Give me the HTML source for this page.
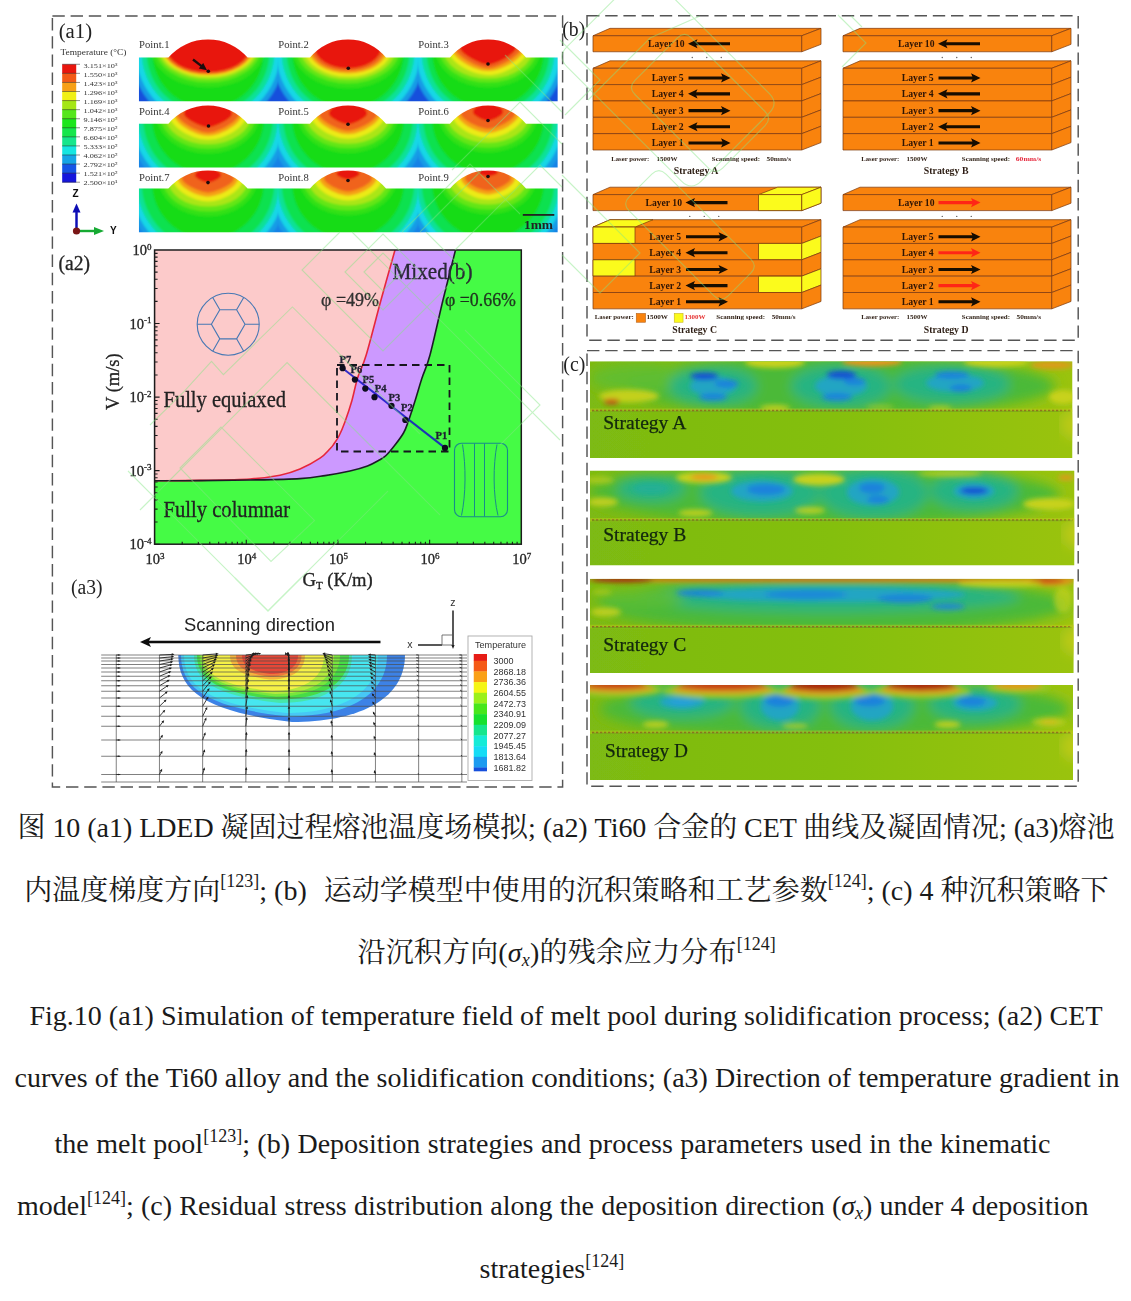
<!DOCTYPE html><html lang="zh"><head><meta charset="utf-8"><title>Fig.10</title><style>html,body{margin:0;padding:0;background:#fff}body{position:relative;width:1131px;height:1301px;overflow:hidden}.ln{position:absolute;white-space:nowrap;font-family:"Liberation Serif", "Noto Serif CJK SC", serif;font-size:28px;line-height:50px;height:50px;color:#1a1a1a}.sp{font-size:18px;position:relative;top:-12.5px;letter-spacing:0}.spl{top:-11px}.sb{font-size:18px;position:relative;top:4px}i{font-style:italic}</style></head><body><svg width="1131" height="800" viewBox="0 0 1131 800" style="position:absolute;left:0;top:0"><defs><filter id="bl1" x="-5%" y="-5%" width="110%" height="110%"><feGaussianBlur stdDeviation="0.9"/></filter><filter id="bl05" x="-5%" y="-5%" width="110%" height="110%"><feGaussianBlur stdDeviation="0.6"/></filter><filter id="bl3" x="-5%" y="-20%" width="110%" height="140%"><feGaussianBlur stdDeviation="2.4"/></filter><filter id="bl6" x="-5%" y="-30%" width="110%" height="160%"><feGaussianBlur stdDeviation="6"/></filter><filter id="blt" x="-2%" y="-2%" width="104%" height="104%"><feGaussianBlur stdDeviation="0.5"/></filter><clipPath id="bc0"><path d="M138.8,57.6 L168.4,57.6 A52.18,52.18 0 0 1 247.6,57.6 L310,57.6 A48.77,48.77 0 0 1 386,57.6 L450,57.6 A48.77,48.77 0 0 1 526,57.6 L557.8,57.6 V101.2 H138.8 Z"/></clipPath>
<clipPath id="cc0"><rect x="138.8" y="32.6" width="139.2" height="69.6"/></clipPath>
<clipPath id="cc1"><rect x="278" y="32.6" width="140" height="69.6"/></clipPath>
<clipPath id="cc2"><rect x="418" y="32.6" width="139.8" height="69.6"/></clipPath>
<clipPath id="bc1"><path d="M138.8,123.8 L168.4,123.8 A52.18,52.18 0 0 1 247.6,123.8 L310,123.8 A48.77,48.77 0 0 1 386,123.8 L450,123.8 A48.77,48.77 0 0 1 526,123.8 L557.8,123.8 V167.4 H138.8 Z"/></clipPath>
<clipPath id="cc3"><rect x="138.8" y="98.8" width="139.2" height="69.6"/></clipPath>
<clipPath id="cc4"><rect x="278" y="98.8" width="140" height="69.6"/></clipPath>
<clipPath id="cc5"><rect x="418" y="98.8" width="139.8" height="69.6"/></clipPath>
<clipPath id="bc2"><path d="M138.8,188.6 L168.4,188.6 A52.18,52.18 0 0 1 247.6,188.6 L310,188.6 A48.77,48.77 0 0 1 386,188.6 L450,188.6 A48.77,48.77 0 0 1 526,188.6 L557.8,188.6 V232.2 H138.8 Z"/></clipPath>
<clipPath id="cc6"><rect x="138.8" y="163.6" width="139.2" height="69.6"/></clipPath>
<clipPath id="cc7"><rect x="278" y="163.6" width="140" height="69.6"/></clipPath>
<clipPath id="cc8"><rect x="418" y="163.6" width="139.8" height="69.6"/></clipPath><clipPath id="pc"><rect x="154.6" y="250" width="366.7" height="294.2"/></clipPath><clipPath id="p3c"><rect x="100" y="655" width="370" height="130"/></clipPath><clipPath id="sc0"><rect x="590" y="361.25" width="482.5" height="96.75"/></clipPath>
<clipPath id="su0"><rect x="590" y="361.25" width="482.5" height="50.25"/></clipPath>
<linearGradient id="sg0" x1="0" y1="0" x2="1" y2="0"><stop offset="0" stop-color="#7dba12"/><stop offset="0.5" stop-color="#84bf0e"/><stop offset="1" stop-color="#9ac30e"/></linearGradient>
<clipPath id="sc1"><rect x="590" y="470.5" width="484.5" height="95"/></clipPath>
<clipPath id="su1"><rect x="590" y="470.5" width="484.5" height="50.5"/></clipPath>
<linearGradient id="sg1" x1="0" y1="0" x2="1" y2="0"><stop offset="0" stop-color="#7dba12"/><stop offset="0.5" stop-color="#84bf0e"/><stop offset="1" stop-color="#9ac30e"/></linearGradient>
<clipPath id="sc2"><rect x="590" y="578.75" width="483.75" height="94.25"/></clipPath>
<clipPath id="su2"><rect x="590" y="578.75" width="483.75" height="49"/></clipPath>
<linearGradient id="sg2" x1="0" y1="0" x2="1" y2="0"><stop offset="0" stop-color="#7dba12"/><stop offset="0.5" stop-color="#84bf0e"/><stop offset="1" stop-color="#9ac30e"/></linearGradient>
<clipPath id="sc3"><rect x="590" y="685" width="483" height="95"/></clipPath>
<clipPath id="su3"><rect x="590" y="685" width="483" height="48.5"/></clipPath>
<linearGradient id="sg3" x1="0" y1="0" x2="1" y2="0"><stop offset="0" stop-color="#7dba12"/><stop offset="0.5" stop-color="#84bf0e"/><stop offset="1" stop-color="#9ac30e"/></linearGradient></defs><g filter="url(#blt)"><g fill="none" stroke="#555" stroke-width="1.45" stroke-dasharray="12.4,5.8"><rect x="52.4" y="16" width="510.2" height="771"/><rect x="587" y="15.8" width="491.2" height="324.4"/><rect x="587" y="350.6" width="491.2" height="435.6"/></g><g><text x="58.7" y="38" font-family='"Liberation Serif", "Noto Serif CJK SC", serif' font-size="20.5" fill="#222" textLength="33.5" lengthAdjust="spacingAndGlyphs">(a1)</text>
<text x="60.5" y="54.5" font-family='"Liberation Serif", "Noto Serif CJK SC", serif' font-size="8.4" fill="#333" textLength="66" lengthAdjust="spacingAndGlyphs">Temperature (°C)</text>
<rect x="62.2" y="64.3" width="14" height="9.37" fill="#e8140f"/>
<rect x="62.2" y="73.37" width="14" height="9.37" fill="#f35a14"/>
<rect x="62.2" y="82.44" width="14" height="9.37" fill="#f7a014"/>
<rect x="62.2" y="91.51" width="14" height="9.37" fill="#f0f014"/>
<rect x="62.2" y="100.58" width="14" height="9.37" fill="#a5e614"/>
<rect x="62.2" y="109.65" width="14" height="9.37" fill="#55e61a"/>
<rect x="62.2" y="118.72" width="14" height="9.37" fill="#1ee61e"/>
<rect x="62.2" y="127.78" width="14" height="9.37" fill="#19e64b"/>
<rect x="62.2" y="136.85" width="14" height="9.37" fill="#19e68c"/>
<rect x="62.2" y="145.92" width="14" height="9.37" fill="#19e6e1"/>
<rect x="62.2" y="154.99" width="14" height="9.37" fill="#19a5e6"/>
<rect x="62.2" y="164.06" width="14" height="9.37" fill="#1455e6"/>
<rect x="62.2" y="173.13" width="14" height="9.37" fill="#1414dc"/>
<line x1="62.2" y1="64.3" x2="80" y2="64.3" stroke="#222" stroke-width="0.5"/>
<line x1="62.2" y1="73.37" x2="80" y2="73.37" stroke="#222" stroke-width="0.5"/>
<line x1="62.2" y1="82.44" x2="80" y2="82.44" stroke="#222" stroke-width="0.5"/>
<line x1="62.2" y1="91.51" x2="80" y2="91.51" stroke="#222" stroke-width="0.5"/>
<line x1="62.2" y1="100.58" x2="80" y2="100.58" stroke="#222" stroke-width="0.5"/>
<line x1="62.2" y1="109.65" x2="80" y2="109.65" stroke="#222" stroke-width="0.5"/>
<line x1="62.2" y1="118.72" x2="80" y2="118.72" stroke="#222" stroke-width="0.5"/>
<line x1="62.2" y1="127.78" x2="80" y2="127.78" stroke="#222" stroke-width="0.5"/>
<line x1="62.2" y1="136.85" x2="80" y2="136.85" stroke="#222" stroke-width="0.5"/>
<line x1="62.2" y1="145.92" x2="80" y2="145.92" stroke="#222" stroke-width="0.5"/>
<line x1="62.2" y1="154.99" x2="80" y2="154.99" stroke="#222" stroke-width="0.5"/>
<line x1="62.2" y1="164.06" x2="80" y2="164.06" stroke="#222" stroke-width="0.5"/>
<line x1="62.2" y1="173.13" x2="80" y2="173.13" stroke="#222" stroke-width="0.5"/>
<line x1="62.2" y1="182.2" x2="80" y2="182.2" stroke="#222" stroke-width="0.5"/>
<text x="83.5" y="67.7" font-family='"Liberation Serif", "Noto Serif CJK SC", serif' font-size="6.6" fill="#333" textLength="34" lengthAdjust="spacingAndGlyphs">3.151×10³</text>
<text x="83.5" y="76.72" font-family='"Liberation Serif", "Noto Serif CJK SC", serif' font-size="6.6" fill="#333" textLength="34" lengthAdjust="spacingAndGlyphs">1.550×10³</text>
<text x="83.5" y="85.73" font-family='"Liberation Serif", "Noto Serif CJK SC", serif' font-size="6.6" fill="#333" textLength="34" lengthAdjust="spacingAndGlyphs">1.423×10³</text>
<text x="83.5" y="94.75" font-family='"Liberation Serif", "Noto Serif CJK SC", serif' font-size="6.6" fill="#333" textLength="34" lengthAdjust="spacingAndGlyphs">1.296×10³</text>
<text x="83.5" y="103.76" font-family='"Liberation Serif", "Noto Serif CJK SC", serif' font-size="6.6" fill="#333" textLength="34" lengthAdjust="spacingAndGlyphs">1.169×10³</text>
<text x="83.5" y="112.78" font-family='"Liberation Serif", "Noto Serif CJK SC", serif' font-size="6.6" fill="#333" textLength="34" lengthAdjust="spacingAndGlyphs">1.042×10³</text>
<text x="83.5" y="121.79" font-family='"Liberation Serif", "Noto Serif CJK SC", serif' font-size="6.6" fill="#333" textLength="34" lengthAdjust="spacingAndGlyphs">9.146×10²</text>
<text x="83.5" y="130.81" font-family='"Liberation Serif", "Noto Serif CJK SC", serif' font-size="6.6" fill="#333" textLength="34" lengthAdjust="spacingAndGlyphs">7.875×10²</text>
<text x="83.5" y="139.82" font-family='"Liberation Serif", "Noto Serif CJK SC", serif' font-size="6.6" fill="#333" textLength="34" lengthAdjust="spacingAndGlyphs">6.604×10²</text>
<text x="83.5" y="148.84" font-family='"Liberation Serif", "Noto Serif CJK SC", serif' font-size="6.6" fill="#333" textLength="34" lengthAdjust="spacingAndGlyphs">5.333×10²</text>
<text x="83.5" y="157.85" font-family='"Liberation Serif", "Noto Serif CJK SC", serif' font-size="6.6" fill="#333" textLength="34" lengthAdjust="spacingAndGlyphs">4.062×10²</text>
<text x="83.5" y="166.87" font-family='"Liberation Serif", "Noto Serif CJK SC", serif' font-size="6.6" fill="#333" textLength="34" lengthAdjust="spacingAndGlyphs">2.792×10²</text>
<text x="83.5" y="175.88" font-family='"Liberation Serif", "Noto Serif CJK SC", serif' font-size="6.6" fill="#333" textLength="34" lengthAdjust="spacingAndGlyphs">1.521×10²</text>
<text x="83.5" y="184.9" font-family='"Liberation Serif", "Noto Serif CJK SC", serif' font-size="6.6" fill="#333" textLength="34" lengthAdjust="spacingAndGlyphs">2.500×10¹</text>
<text x="72.5" y="196.5" font-family='"Liberation Sans", "Noto Sans CJK SC", sans-serif' font-weight="bold" font-size="10" fill="#111">Z</text>
<text x="110" y="234" font-family='"Liberation Sans", "Noto Sans CJK SC", sans-serif' font-weight="bold" font-size="10" fill="#111">Y</text>
<path d="M76.5,230 V211" stroke="#0a0ab4" stroke-width="2.4" fill="none"/><path d="M76.5,203.5 l4,9 h-8z" fill="#0a0ab4"/>
<path d="M77,231 H95" stroke="#14aa32" stroke-width="2.4" fill="none"/><path d="M104,231 l-10,-4 v8z" fill="#14aa32"/>
<circle cx="76.5" cy="231" r="3.6" fill="#7a1414"/>
<g clip-path="url(#bc0)">
<g clip-path="url(#cc0)"><g filter="url(#bl1)">
<rect x="135.8" y="29.6" width="145.2" height="77.6" fill="#1450dc"/>
<circle cx="208" cy="51.6" r="77" fill="#149be6"/>
<circle cx="208" cy="51.6" r="72" fill="#14d7e6"/>
<circle cx="208" cy="51.6" r="66.5" fill="#0ae196"/>
<circle cx="208" cy="51.6" r="61.5" fill="#0ae150"/>
<circle cx="208" cy="51.6" r="56" fill="#14dc14"/>
<ellipse cx="208" cy="47.6" rx="57" ry="40" fill="#32e114"/>
<ellipse cx="208" cy="47.6" rx="53" ry="35" fill="#64e614"/>
<ellipse cx="208" cy="47.6" rx="50" ry="31.5" fill="#aae614"/>
<ellipse cx="208" cy="47.6" rx="47.5" ry="29" fill="#ebeb14"/>
<ellipse cx="208" cy="47.6" rx="45.5" ry="27.5" fill="#f5a014"/>
<ellipse cx="208" cy="47.6" rx="43.7" ry="26.4" fill="#f0641a"/>
<ellipse cx="208" cy="47.6" rx="41.5" ry="24.6" fill="#e8140f"/>
</g></g>
<g clip-path="url(#cc1)"><g filter="url(#bl1)">
<rect x="275" y="29.6" width="146" height="77.6" fill="#1450dc"/>
<circle cx="348" cy="51.6" r="77" fill="#149be6"/>
<circle cx="348" cy="51.6" r="72" fill="#14d7e6"/>
<circle cx="348" cy="51.6" r="66.5" fill="#0ae196"/>
<circle cx="348" cy="51.6" r="61.5" fill="#0ae150"/>
<circle cx="348" cy="51.6" r="56" fill="#14dc14"/>
<ellipse cx="348" cy="47.6" rx="56" ry="41" fill="#32e114"/>
<ellipse cx="348" cy="47.6" rx="52" ry="36" fill="#64e614"/>
<ellipse cx="348" cy="47.6" rx="48" ry="32" fill="#aae614"/>
<ellipse cx="348" cy="47.6" rx="44" ry="29" fill="#ebeb14"/>
<ellipse cx="348" cy="47.6" rx="40" ry="26" fill="#f5a014"/>
<ellipse cx="348" cy="47.6" rx="37" ry="23.5" fill="#f0641a"/>
<ellipse cx="348" cy="47.6" rx="33" ry="20.8" fill="#e8140f"/>
</g></g>
<g clip-path="url(#cc2)"><g filter="url(#bl1)">
<rect x="415" y="29.6" width="145.8" height="77.6" fill="#1450dc"/>
<circle cx="488" cy="51.6" r="77" fill="#149be6"/>
<circle cx="488" cy="51.6" r="72" fill="#14d7e6"/>
<circle cx="488" cy="51.6" r="66.5" fill="#0ae196"/>
<circle cx="488" cy="51.6" r="61.5" fill="#0ae150"/>
<circle cx="488" cy="51.6" r="56" fill="#14dc14"/>
<ellipse cx="488" cy="47.6" rx="53" ry="40" fill="#32e114"/>
<ellipse cx="488" cy="47.6" rx="49" ry="35" fill="#64e614"/>
<ellipse cx="488" cy="47.6" rx="45" ry="31" fill="#aae614"/>
<path d="M447.5,47.6 A40.5,27.5 0 0 1 528.5,47.6 C528.5,60.71 505.84,75.1 488,75.1 C470.16,75.1 447.5,60.71 447.5,47.6Z" fill="#ebeb14"/>
<path d="M451.5,47.6 A36.5,23.5 0 0 1 524.5,47.6 C524.5,57.91 502.04,71.1 488,71.1 C473.96,71.1 451.5,57.91 451.5,47.6Z" fill="#f5a014"/>
<path d="M455,47.6 A33,20.6 0 0 1 521,47.6 C521,55.66 498.39,68.2 488,68.2 C477.61,68.2 455,55.66 455,47.6Z" fill="#f0641a"/>
<path d="M460,47.6 A28,17 0 0 1 516,47.6 C516,53.77 495.65,64.6 488,64.6 C480.35,64.6 460,53.77 460,47.6Z" fill="#e8140f"/>
</g></g>
</g>
<g clip-path="url(#bc1)">
<g clip-path="url(#cc3)"><g filter="url(#bl1)">
<rect x="135.8" y="95.8" width="145.2" height="77.6" fill="#1482e6"/>
<circle cx="208" cy="117.8" r="80.5" fill="#149be6"/>
<circle cx="208" cy="117.8" r="75.5" fill="#14d7e6"/>
<circle cx="208" cy="117.8" r="70" fill="#0ae196"/>
<circle cx="208" cy="117.8" r="65" fill="#0ae150"/>
<circle cx="208" cy="117.8" r="56" fill="#14dc14"/>
<ellipse cx="208" cy="113.8" rx="52" ry="40" fill="#32e114"/>
<ellipse cx="208" cy="113.8" rx="48" ry="35" fill="#64e614"/>
<ellipse cx="208" cy="113.8" rx="43.5" ry="30.5" fill="#aae614"/>
<path d="M169,113.8 A39,26 0 0 1 247,113.8 C247,126.19 225.18,139.8 208,139.8 C190.82,139.8 169,126.19 169,113.8Z" fill="#ebeb14"/>
<path d="M174,113.8 A34,22 0 0 1 242,113.8 C242,123.45 221.08,135.8 208,135.8 C194.92,135.8 174,123.45 174,113.8Z" fill="#f5a014"/>
<path d="M177,113.8 A31,19 0 0 1 239,113.8 C239,121.24 217.76,132.8 208,132.8 C198.24,132.8 177,121.24 177,113.8Z" fill="#f0641a"/>
<path d="M184,113.8 A24,13.5 0 0 1 232,113.8 C232,118.7 214.55,127.3 208,127.3 C201.45,127.3 184,118.7 184,113.8Z" fill="#e8140f"/>
</g></g>
<g clip-path="url(#cc4)"><g filter="url(#bl1)">
<rect x="275" y="95.8" width="146" height="77.6" fill="#1482e6"/>
<circle cx="348" cy="117.8" r="80.5" fill="#149be6"/>
<circle cx="348" cy="117.8" r="75.5" fill="#14d7e6"/>
<circle cx="348" cy="117.8" r="70" fill="#0ae196"/>
<circle cx="348" cy="117.8" r="65" fill="#0ae150"/>
<circle cx="348" cy="117.8" r="56" fill="#14dc14"/>
<ellipse cx="348" cy="113.8" rx="51" ry="39.5" fill="#32e114"/>
<ellipse cx="348" cy="113.8" rx="47" ry="34.5" fill="#64e614"/>
<ellipse cx="348" cy="113.8" rx="42.5" ry="30" fill="#aae614"/>
<path d="M310.5,113.8 A37.5,25 0 0 1 385.5,113.8 C385.5,125.72 364.52,138.8 348,138.8 C331.48,138.8 310.5,125.72 310.5,113.8Z" fill="#ebeb14"/>
<path d="M315.5,113.8 A32.5,20.5 0 0 1 380.5,113.8 C380.5,122.79 360.5,134.3 348,134.3 C335.5,134.3 315.5,122.79 315.5,113.8Z" fill="#f5a014"/>
<path d="M319,113.8 A29,17 0 0 1 377,113.8 C377,120.45 357.13,130.8 348,130.8 C338.87,130.8 319,120.45 319,113.8Z" fill="#f0641a"/>
<path d="M329,113.8 A19,10.5 0 0 1 367,113.8 C367,117.61 353.19,124.3 348,124.3 C342.81,124.3 329,117.61 329,113.8Z" fill="#e8140f"/>
</g></g>
<g clip-path="url(#cc5)"><g filter="url(#bl1)">
<rect x="415" y="95.8" width="145.8" height="77.6" fill="#1482e6"/>
<circle cx="488" cy="117.8" r="80.5" fill="#149be6"/>
<circle cx="488" cy="117.8" r="75.5" fill="#14d7e6"/>
<circle cx="488" cy="117.8" r="70" fill="#0ae196"/>
<circle cx="488" cy="117.8" r="65" fill="#0ae150"/>
<circle cx="488" cy="117.8" r="56" fill="#14dc14"/>
<ellipse cx="488" cy="113.8" rx="50" ry="39" fill="#32e114"/>
<ellipse cx="488" cy="113.8" rx="46" ry="34" fill="#64e614"/>
<ellipse cx="488" cy="113.8" rx="41.5" ry="29" fill="#aae614"/>
<path d="M452,113.8 A36,24 0 0 1 524,113.8 C524,125.24 503.86,137.8 488,137.8 C472.14,137.8 452,125.24 452,113.8Z" fill="#ebeb14"/>
<path d="M457,113.8 A31,19 0 0 1 519,113.8 C519,122.14 499.93,132.8 488,132.8 C476.07,132.8 457,122.14 457,113.8Z" fill="#f5a014"/>
<path d="M461,113.8 A27,15 0 0 1 515,113.8 C515,119.67 496.5,128.8 488,128.8 C479.5,128.8 461,119.67 461,113.8Z" fill="#f0641a"/>
<path d="M473,112.3 A15,8.5 0 0 1 503,112.3 C503,115.39 492.1,120.8 488,120.8 C483.9,120.8 473,115.39 473,112.3Z" fill="#e8140f"/>
</g></g>
</g>
<g clip-path="url(#bc2)">
<g clip-path="url(#cc6)"><g filter="url(#bl1)">
<rect x="135.8" y="160.6" width="145.2" height="77.6" fill="#1482e6"/>
<circle cx="208" cy="182.6" r="82" fill="#149be6"/>
<circle cx="208" cy="182.6" r="77" fill="#14d7e6"/>
<circle cx="208" cy="182.6" r="71.5" fill="#0ae196"/>
<circle cx="208" cy="182.6" r="66.5" fill="#0ae150"/>
<circle cx="208" cy="182.6" r="56" fill="#14dc14"/>
<ellipse cx="208" cy="178.6" rx="49.5" ry="38" fill="#32e114"/>
<ellipse cx="208" cy="178.6" rx="45.5" ry="33" fill="#64e614"/>
<ellipse cx="208" cy="178.6" rx="40.5" ry="28" fill="#aae614"/>
<path d="M173,178.6 A35,23 0 0 1 243,178.6 C243,189.56 223.42,201.6 208,201.6 C192.58,201.6 173,189.56 173,178.6Z" fill="#ebeb14"/>
<path d="M178,178.6 A30,18 0 0 1 238,178.6 C238,186.5 219.54,196.6 208,196.6 C196.46,196.6 178,186.5 178,178.6Z" fill="#f5a014"/>
<path d="M182,178.6 A26,14 0 0 1 234,178.6 C234,184.08 216.19,192.6 208,192.6 C199.81,192.6 182,184.08 182,178.6Z" fill="#f0641a"/>
<path d="M195,175.6 A13,7 0 0 1 221,175.6 C221,178.14 211.55,182.6 208,182.6 C204.45,182.6 195,178.14 195,175.6Z" fill="#e8140f"/>
</g></g>
<g clip-path="url(#cc7)"><g filter="url(#bl1)">
<rect x="275" y="160.6" width="146" height="77.6" fill="#1482e6"/>
<circle cx="348" cy="182.6" r="82" fill="#149be6"/>
<circle cx="348" cy="182.6" r="77" fill="#14d7e6"/>
<circle cx="348" cy="182.6" r="71.5" fill="#0ae196"/>
<circle cx="348" cy="182.6" r="66.5" fill="#0ae150"/>
<circle cx="348" cy="182.6" r="56" fill="#14dc14"/>
<ellipse cx="348" cy="178.6" rx="49" ry="37" fill="#32e114"/>
<ellipse cx="348" cy="178.6" rx="45" ry="32" fill="#64e614"/>
<ellipse cx="348" cy="178.6" rx="40" ry="27" fill="#aae614"/>
<path d="M314,178.6 A34,22 0 0 1 382,178.6 C382,189.09 362.98,200.6 348,200.6 C333.02,200.6 314,189.09 314,178.6Z" fill="#ebeb14"/>
<path d="M319.5,178.6 A28.5,17 0 0 1 376.5,178.6 C376.5,186.06 358.97,195.6 348,195.6 C337.03,195.6 319.5,186.06 319.5,178.6Z" fill="#f5a014"/>
<path d="M324,178.6 A24,13 0 0 1 372,178.6 C372,183.69 355.56,191.6 348,191.6 C340.44,191.6 324,183.69 324,178.6Z" fill="#f0641a"/>
<path d="M336.5,174.1 A11.5,5.5 0 0 1 359.5,174.1 C359.5,176.1 351.14,179.6 348,179.6 C344.86,179.6 336.5,176.1 336.5,174.1Z" fill="#e8140f"/>
</g></g>
<g clip-path="url(#cc8)"><g filter="url(#bl1)">
<rect x="415" y="160.6" width="145.8" height="77.6" fill="#1482e6"/>
<circle cx="488" cy="182.6" r="82" fill="#149be6"/>
<circle cx="488" cy="182.6" r="77" fill="#14d7e6"/>
<circle cx="488" cy="182.6" r="71.5" fill="#0ae196"/>
<circle cx="488" cy="182.6" r="66.5" fill="#0ae150"/>
<circle cx="488" cy="182.6" r="56" fill="#14dc14"/>
<ellipse cx="488" cy="178.6" rx="48.5" ry="36" fill="#32e114"/>
<ellipse cx="488" cy="178.6" rx="44.5" ry="31" fill="#64e614"/>
<ellipse cx="488" cy="178.6" rx="39.5" ry="26" fill="#aae614"/>
<path d="M455,178.6 A33,21 0 0 1 521,178.6 C521,188.61 502.54,199.6 488,199.6 C473.46,199.6 455,188.61 455,178.6Z" fill="#ebeb14"/>
<path d="M461,178.6 A27,16 0 0 1 515,178.6 C515,185.62 498.39,194.6 488,194.6 C477.61,194.6 461,185.62 461,178.6Z" fill="#f5a014"/>
<path d="M465,178.6 A23,12 0 0 1 511,178.6 C511,183.3 495.24,190.6 488,190.6 C480.76,190.6 465,183.3 465,178.6Z" fill="#f0641a"/>
<path d="M478,172.6 A10,4 0 0 1 498,172.6 C498,174.05 490.73,176.6 488,176.6 C485.27,176.6 478,174.05 478,172.6Z" fill="#e8140f"/>
</g></g>
</g>
<text x="139.1" y="48.2" font-family='"Liberation Serif", "Noto Serif CJK SC", serif' font-size="9.6" fill="#333" textLength="30.5" lengthAdjust="spacingAndGlyphs">Point.1</text>
<text x="278.3" y="48.2" font-family='"Liberation Serif", "Noto Serif CJK SC", serif' font-size="9.6" fill="#333" textLength="30.5" lengthAdjust="spacingAndGlyphs">Point.2</text>
<text x="418.3" y="48.2" font-family='"Liberation Serif", "Noto Serif CJK SC", serif' font-size="9.6" fill="#333" textLength="30.5" lengthAdjust="spacingAndGlyphs">Point.3</text>
<text x="139.1" y="114.8" font-family='"Liberation Serif", "Noto Serif CJK SC", serif' font-size="9.6" fill="#333" textLength="30.5" lengthAdjust="spacingAndGlyphs">Point.4</text>
<text x="278.3" y="114.8" font-family='"Liberation Serif", "Noto Serif CJK SC", serif' font-size="9.6" fill="#333" textLength="30.5" lengthAdjust="spacingAndGlyphs">Point.5</text>
<text x="418.3" y="114.8" font-family='"Liberation Serif", "Noto Serif CJK SC", serif' font-size="9.6" fill="#333" textLength="30.5" lengthAdjust="spacingAndGlyphs">Point.6</text>
<text x="139.1" y="181.4" font-family='"Liberation Serif", "Noto Serif CJK SC", serif' font-size="9.6" fill="#333" textLength="30.5" lengthAdjust="spacingAndGlyphs">Point.7</text>
<text x="278.3" y="181.4" font-family='"Liberation Serif", "Noto Serif CJK SC", serif' font-size="9.6" fill="#333" textLength="30.5" lengthAdjust="spacingAndGlyphs">Point.8</text>
<text x="418.3" y="181.4" font-family='"Liberation Serif", "Noto Serif CJK SC", serif' font-size="9.6" fill="#333" textLength="30.5" lengthAdjust="spacingAndGlyphs">Point.9</text>
<circle cx="208.3" cy="71.2" r="1.8" fill="#1e0a0a"/>
<circle cx="348.3" cy="68.2" r="1.8" fill="#1e0a0a"/>
<circle cx="488" cy="64" r="1.8" fill="#1e0a0a"/>
<circle cx="208.5" cy="126" r="1.8" fill="#1e0a0a"/>
<circle cx="348" cy="124.2" r="1.8" fill="#1e0a0a"/>
<circle cx="488" cy="120.5" r="1.8" fill="#1e0a0a"/>
<circle cx="208" cy="182.6" r="1.8" fill="#1e0a0a"/>
<circle cx="348" cy="180.5" r="1.8" fill="#1e0a0a"/>
<circle cx="488" cy="176.5" r="1.8" fill="#1e0a0a"/>
<path d="M193,59.5 L202.5,66.8" stroke="#1e0a0a" stroke-width="2.3"/><path d="M207,70.2 l-8.2,-1.6 l4.4,-5.6z" fill="#1e0a0a"/>
<rect x="522.8" y="214" width="31.5" height="1.8" fill="#222"/>
<text x="524" y="229" font-family='"Liberation Serif", "Noto Serif CJK SC", serif' font-weight="bold" font-size="11.5" fill="#222" textLength="29" lengthAdjust="spacingAndGlyphs">1mm</text></g><g><g clip-path="url(#pc)">
<rect x="154.6" y="250" width="366.7" height="294.2" fill="#fccaca"/>
<path d="M154.6,480.8 C162.17,480.73 184.1,480.7 200,480.4 C215.9,480.1 236.67,479.87 250,479 C263.33,478.13 271.67,476.87 280,475.2 C288.33,473.53 293.33,471.83 300,469 C306.67,466.17 315,461.58 320,458.2 C325,454.82 327.77,450.95 330,448.7 C332.23,446.45 331.87,446.9 333.4,444.7 C334.93,442.5 337.27,439.33 339.2,435.5 C341.13,431.67 342.9,427.45 345,421.7 C347.1,415.95 349.7,408.28 351.8,401 C353.9,393.72 355.2,385.67 357.6,378 C360,370.33 362.3,368 366.2,355 C370.1,342 376.2,317.5 381,300 C385.8,282.5 392.67,258.33 395,250 L526.3,250 V549.2 H154.6 Z" fill="#cc99ff"/>
<path d="M154.6,480.8 C162.17,480.77 184.1,480.73 200,480.6 C215.9,480.47 233.33,480.33 250,480 C266.67,479.67 287.5,479.33 300,478.6 C312.5,477.87 316.67,476.87 325,475.6 C333.33,474.33 342.92,472.6 350,471 C357.08,469.4 362.6,467.83 367.5,466 C372.4,464.17 376.32,461.75 379.4,460 C382.48,458.25 383.5,457.87 386,455.5 C388.5,453.13 391.48,449.55 394.4,445.8 C397.32,442.05 401.2,437.02 403.5,433 C405.8,428.98 406.28,427.03 408.2,421.7 C410.12,416.37 412.7,408.28 415,401 C417.3,393.72 419.5,385.67 422,378 C424.5,370.33 426.5,368 430,355 C433.5,342 438.75,317.5 443,300 C447.25,282.5 453.42,258.33 455.5,250 L526.3,250 V549.2 H154.6 Z" fill="#44fb44"/>
<path d="M154.6,480.8 C162.17,480.73 184.1,480.7 200,480.4 C215.9,480.1 236.67,479.87 250,479 C263.33,478.13 271.67,476.87 280,475.2 C288.33,473.53 293.33,471.83 300,469 C306.67,466.17 315,461.58 320,458.2 C325,454.82 327.77,450.95 330,448.7 C332.23,446.45 331.87,446.9 333.4,444.7 C334.93,442.5 337.27,439.33 339.2,435.5 C341.13,431.67 342.9,427.45 345,421.7 C347.1,415.95 349.7,408.28 351.8,401 C353.9,393.72 355.2,385.67 357.6,378 C360,370.33 362.3,368 366.2,355 C370.1,342 376.2,317.5 381,300 C385.8,282.5 392.67,258.33 395,250" fill="none" stroke="#e6283c" stroke-width="1.6"/>
<path d="M154.6,480.8 C162.17,480.77 184.1,480.73 200,480.6 C215.9,480.47 233.33,480.33 250,480 C266.67,479.67 287.5,479.33 300,478.6 C312.5,477.87 316.67,476.87 325,475.6 C333.33,474.33 342.92,472.6 350,471 C357.08,469.4 362.6,467.83 367.5,466 C372.4,464.17 376.32,461.75 379.4,460 C382.48,458.25 383.5,457.87 386,455.5 C388.5,453.13 391.48,449.55 394.4,445.8 C397.32,442.05 401.2,437.02 403.5,433 C405.8,428.98 406.28,427.03 408.2,421.7 C410.12,416.37 412.7,408.28 415,401 C417.3,393.72 419.5,385.67 422,378 C424.5,370.33 426.5,368 430,355 C433.5,342 438.75,317.5 443,300 C447.25,282.5 453.42,258.33 455.5,250" fill="none" stroke="#1e1e28" stroke-width="1.6"/>
</g>
<rect x="154.6" y="250" width="366.7" height="294.2" fill="none" stroke="#1e1e1e" stroke-width="1.5"/>
<path d="M154.6,544.2 v-4.5 M182.2,544.2 v-2.5 M198.34,544.2 v-2.5 M209.79,544.2 v-2.5 M218.68,544.2 v-2.5 M225.94,544.2 v-2.5 M232.07,544.2 v-2.5 M237.39,544.2 v-2.5 M242.08,544.2 v-2.5 M246.27,544.2 v-4.5 M273.87,544.2 v-2.5 M290.02,544.2 v-2.5 M301.47,544.2 v-2.5 M310.35,544.2 v-2.5 M317.61,544.2 v-2.5 M323.75,544.2 v-2.5 M329.07,544.2 v-2.5 M333.76,544.2 v-2.5 M337.95,544.2 v-4.5 M365.55,544.2 v-2.5 M381.69,544.2 v-2.5 M393.14,544.2 v-2.5 M402.03,544.2 v-2.5 M409.29,544.2 v-2.5 M415.42,544.2 v-2.5 M420.74,544.2 v-2.5 M425.43,544.2 v-2.5 M429.62,544.2 v-4.5 M457.22,544.2 v-2.5 M473.37,544.2 v-2.5 M484.82,544.2 v-2.5 M493.7,544.2 v-2.5 M500.96,544.2 v-2.5 M507.1,544.2 v-2.5 M512.42,544.2 v-2.5 M517.11,544.2 v-2.5 M154.6,544.2 h5 M154.6,522.06 h3 M154.6,509.11 h3 M154.6,499.92 h3 M154.6,492.79 h3 M154.6,486.97 h3 M154.6,482.04 h3 M154.6,477.78 h3 M154.6,474.02 h3 M154.6,470.65 h5 M154.6,448.51 h3 M154.6,435.56 h3 M154.6,426.37 h3 M154.6,419.24 h3 M154.6,413.42 h3 M154.6,408.49 h3 M154.6,404.23 h3 M154.6,400.47 h3 M154.6,397.1 h5 M154.6,374.96 h3 M154.6,362.01 h3 M154.6,352.82 h3 M154.6,345.69 h3 M154.6,339.87 h3 M154.6,334.94 h3 M154.6,330.68 h3 M154.6,326.92 h3 M154.6,323.55 h5 M154.6,301.41 h3 M154.6,288.46 h3 M154.6,279.27 h3 M154.6,272.14 h3 M154.6,266.32 h3 M154.6,261.39 h3 M154.6,257.13 h3 M154.6,253.37 h3" stroke="#1e1e1e" stroke-width="1.1" fill="none"/>
<text stroke="#222" stroke-width="0.3" x="145.6" y="564" font-family='"Liberation Serif", "Noto Serif CJK SC", serif' font-size="14.5" fill="#222">10<tspan dy="-5.5" font-size="9">3</tspan></text>
<text stroke="#222" stroke-width="0.3" x="237.27" y="564" font-family='"Liberation Serif", "Noto Serif CJK SC", serif' font-size="14.5" fill="#222">10<tspan dy="-5.5" font-size="9">4</tspan></text>
<text stroke="#222" stroke-width="0.3" x="328.95" y="564" font-family='"Liberation Serif", "Noto Serif CJK SC", serif' font-size="14.5" fill="#222">10<tspan dy="-5.5" font-size="9">5</tspan></text>
<text stroke="#222" stroke-width="0.3" x="420.62" y="564" font-family='"Liberation Serif", "Noto Serif CJK SC", serif' font-size="14.5" fill="#222">10<tspan dy="-5.5" font-size="9">6</tspan></text>
<text stroke="#222" stroke-width="0.3" x="512.3" y="564" font-family='"Liberation Serif", "Noto Serif CJK SC", serif' font-size="14.5" fill="#222">10<tspan dy="-5.5" font-size="9">7</tspan></text>
<text stroke="#222" stroke-width="0.3" x="132.5" y="255" font-family='"Liberation Serif", "Noto Serif CJK SC", serif' font-size="14.5" fill="#222">10<tspan dy="-5.5" font-size="9">0</tspan></text>
<text stroke="#222" stroke-width="0.3" x="129.5" y="328.55" font-family='"Liberation Serif", "Noto Serif CJK SC", serif' font-size="14.5" fill="#222">10<tspan dy="-5.5" font-size="9">-1</tspan></text>
<text stroke="#222" stroke-width="0.3" x="129.5" y="402.1" font-family='"Liberation Serif", "Noto Serif CJK SC", serif' font-size="14.5" fill="#222">10<tspan dy="-5.5" font-size="9">-2</tspan></text>
<text stroke="#222" stroke-width="0.3" x="129.5" y="475.65" font-family='"Liberation Serif", "Noto Serif CJK SC", serif' font-size="14.5" fill="#222">10<tspan dy="-5.5" font-size="9">-3</tspan></text>
<text stroke="#222" stroke-width="0.3" x="129.5" y="549.2" font-family='"Liberation Serif", "Noto Serif CJK SC", serif' font-size="14.5" fill="#222">10<tspan dy="-5.5" font-size="9">-4</tspan></text>
<text stroke="#222" stroke-width="0.3" x="302.5" y="585.5" font-family='"Liberation Serif", "Noto Serif CJK SC", serif' font-size="18.6" fill="#222">G<tspan dy="3.5" font-size="11">T</tspan><tspan dy="-3.5"> (K/m)</tspan></text>
<text stroke="#222" stroke-width="0.3" transform="translate(119,410) rotate(-90)" font-family='"Liberation Serif", "Noto Serif CJK SC", serif' font-size="18.5" fill="#222">V (m/s)</text>
<text stroke="#222" stroke-width="0.3" x="58.5" y="270" font-family='"Liberation Serif", "Noto Serif CJK SC", serif' font-size="20" fill="#222" textLength="31.5" lengthAdjust="spacingAndGlyphs">(a2)</text>
<text stroke="#222" stroke-width="0.3" x="163.5" y="406.5" font-family='"Liberation Serif", "Noto Serif CJK SC", serif' font-size="22.5" fill="#222" textLength="122.5" lengthAdjust="spacingAndGlyphs">Fully equiaxed</text>
<text stroke="#222" stroke-width="0.3" x="163.5" y="516.5" font-family='"Liberation Serif", "Noto Serif CJK SC", serif' font-size="22.5" fill="#222" textLength="126.5" lengthAdjust="spacingAndGlyphs">Fully columnar</text>
<text stroke="#222" stroke-width="0.3" x="392.5" y="278.5" font-family='"Liberation Serif", "Noto Serif CJK SC", serif' font-size="23" fill="#2a2a3a" textLength="80" lengthAdjust="spacingAndGlyphs">Mixed(b)</text>
<text stroke="#222" stroke-width="0.3" x="321" y="305.5" font-family='"Liberation Serif", "Noto Serif CJK SC", serif' font-size="19.5" fill="#333" textLength="58" lengthAdjust="spacingAndGlyphs">φ =49%</text>
<text stroke="#222" stroke-width="0.3" x="445" y="305.5" font-family='"Liberation Serif", "Noto Serif CJK SC", serif' font-size="19.5" fill="#1e3c1e" textLength="71" lengthAdjust="spacingAndGlyphs">φ =0.66%</text>
<circle cx="228.2" cy="324.3" r="31" fill="none" stroke="#4678b4" stroke-width="1.1"/><path d="M245,324.3 L236.6,338.85 L219.8,338.85 L211.4,324.3 L219.8,309.75 L236.6,309.75Z M245,324.3 L259.2,324.3 M236.6,338.85 L243.7,351.15 M219.8,338.85 L212.7,351.15 M211.4,324.3 L197.2,324.3 M219.8,309.75 L212.7,297.45 M236.6,309.75 L243.7,297.45" fill="none" stroke="#4678b4" stroke-width="1.1"/>
<rect x="454.5" y="443.2" width="53" height="73.5" rx="7" fill="none" stroke="#198c8c" stroke-width="1.1"/>
<path d="M462.5,444.5 C466,465 466,495 461.5,515.5 M474.5,443.5 V516.5 M484.5,443.5 V516.5 M497,444.5 C493,465 493,495 498,515.5" fill="none" stroke="#198c8c" stroke-width="1"/>
<rect x="337" y="365" width="112.5" height="86.5" fill="none" stroke="#14141e" stroke-width="1.8" stroke-dasharray="7.5,5"/>
<line x1="342.6" y1="368.2" x2="445" y2="447.9" stroke="#1414c8" stroke-width="2" opacity="0.85"/>
<circle cx="445" cy="447.9" r="3.1" fill="#0a0a1e"/>
<circle cx="405.3" cy="420" r="3.1" fill="#0a0a1e"/>
<circle cx="391.5" cy="405.8" r="3.1" fill="#0a0a1e"/>
<circle cx="374.5" cy="397.2" r="3.1" fill="#0a0a1e"/>
<circle cx="365.3" cy="388.6" r="3.1" fill="#0a0a1e"/>
<circle cx="354.9" cy="379.6" r="3.1" fill="#0a0a1e"/>
<circle cx="342.6" cy="368.2" r="3.1" fill="#0a0a1e"/>
<text stroke="#222" stroke-width="0.3" x="339.5" y="363" font-family='"Liberation Serif", "Noto Serif CJK SC", serif' font-weight="bold" font-size="10.5" fill="#1e1e3c">P7</text>
<text stroke="#222" stroke-width="0.3" x="350.5" y="373.4" font-family='"Liberation Serif", "Noto Serif CJK SC", serif' font-weight="bold" font-size="10.5" fill="#1e1e3c">P6</text>
<text stroke="#222" stroke-width="0.3" x="362.5" y="383" font-family='"Liberation Serif", "Noto Serif CJK SC", serif' font-weight="bold" font-size="10.5" fill="#1e1e3c">P5</text>
<text stroke="#222" stroke-width="0.3" x="374.8" y="392.4" font-family='"Liberation Serif", "Noto Serif CJK SC", serif' font-weight="bold" font-size="10.5" fill="#1e1e3c">P4</text>
<text stroke="#222" stroke-width="0.3" x="388.5" y="401" font-family='"Liberation Serif", "Noto Serif CJK SC", serif' font-weight="bold" font-size="10.5" fill="#1e1e3c">P3</text>
<text stroke="#222" stroke-width="0.3" x="401" y="411" font-family='"Liberation Serif", "Noto Serif CJK SC", serif' font-weight="bold" font-size="10.5" fill="#1e1e3c">P2</text>
<text stroke="#222" stroke-width="0.3" x="435.5" y="439" font-family='"Liberation Serif", "Noto Serif CJK SC", serif' font-weight="bold" font-size="10.5" fill="#1e1e3c">P1</text></g><g><text x="71" y="594" font-family='"Liberation Serif", "Noto Serif CJK SC", serif' font-size="20" fill="#222" textLength="31.5" lengthAdjust="spacingAndGlyphs">(a3)</text>
<text x="184" y="631" font-family='"Liberation Sans", "Noto Sans CJK SC", sans-serif' font-size="18.6" fill="#222" textLength="151" lengthAdjust="spacingAndGlyphs">Scanning direction</text>
<path d="M380.5,642 H148" stroke="#111" stroke-width="2.4"/><path d="M140,642 l11,-5 l-2.5,5 l2.5,5z" fill="#111"/>
<g clip-path="url(#p3c)"><g filter="url(#bl05)">
<path d="M178.3,653 V655 C178.3,691.85 206.73,711.95 292,722 C354.15,722 405,701.9 405,655 V653 Z" fill="#3c82e6"/>
<path d="M181,653 V655 C181,688.83 207.75,707.27 288,716.5 C342.45,716.5 387,698.05 387,655 V653 Z" fill="#46c8f5"/>
<path d="M184,653 V655 C184,686.9 209.5,704.3 286,713 C336.6,713 378,695.6 378,655 V653 Z" fill="#46e6f0"/>
<path d="M194,653 V655 C194,681.4 215.5,695.8 280,703 C319.6,703 352,688.6 352,655 V653 Z" fill="#46e6aa"/>
<path d="M197,653 V655 C197,679.48 217.25,692.83 278,699.5 C317.05,699.5 349,686.15 349,655 V653 Z" fill="#46dc46"/>
<path d="M199.5,653 V655 C199.5,677.83 218.62,690.27 276,696.5 C311.2,696.5 340,684.05 340,655 V653 Z" fill="#78e63c"/>
<path d="M201.5,653 V655 C201.5,676.45 219.88,688.15 275,694 C307.45,694 334,682.3 334,655 V653 Z" fill="#b4eb3c"/>
<path d="M204,653 V655 C204,674.8 221,685.6 272,691 C300.6,691 324,680.2 324,655 V653 Z" fill="#f5f046"/>
<path d="M230,653 V655 C230,668.48 240,675.83 270,679.5 C289.25,679.5 305,672.15 305,655 V653 Z" fill="#f5b43c"/>
<path d="M236,653 V655 C236,666.83 244.5,673.27 270,676.5 C287.32,676.5 301.5,670.05 301.5,655 V653 Z" fill="#f0783c"/>
<path d="M242,653 V655 C242,665.45 249,671.15 270,674 C285.4,674 298,668.3 298,655 V653 Z" fill="#e64637"/>
</g></g>
<path d="M101.2,655 H467 M101.2,658 H467 M101.2,661 H467 M101.2,664.5 H467 M101.2,668 H467 M101.2,672 H467 M101.2,676.25 H467 M101.2,680.75 H467 M101.2,685.75 H467 M101.2,691.25 H467 M101.2,698 H467 M101.2,706.25 H467 M101.2,716.25 H467 M101.2,726.25 H467 M101.2,740 H467 M101.2,756.25 H467 M101.2,774.5 H467 M101.2,782 H467 M116.25,655 V782 M159.45,655 V782 M202.65,655 V782 M245.85,655 V782 M289.05,655 V782 M332.25,655 V782 M375.45,655 V782 M418.65,655 V782 M461.85,655 V782" stroke="#4b4b4b" stroke-width="0.7" fill="none"/>
<path d="M116.25,655 L119.45,655 M116.25,658 L119.45,658 M116.25,661 L119.45,661 M116.25,664.5 L119.45,664.5 M116.25,668 L119.45,668 M116.25,672 L119.45,672 M116.25,676.25 L119.45,676.25 M116.25,680.75 L119.45,680.75 M116.25,685.75 L119.45,685.75 M116.25,691.25 L119.45,691.25 M116.25,698 L119.45,698 M116.25,706.25 L119.45,706.25 M116.25,716.25 L119.45,716.25 M116.25,726.25 L119.45,726.25 M116.25,740 L119.45,740 M116.25,756.25 L119.45,756.25 M116.25,774.5 L119.45,774.5 M159.45,655 L172.94,654.41 M159.45,658 L172.58,656.73 M159.45,661 L172.19,659.1 M159.45,664.5 L171.7,661.92 M159.45,668 L171.18,664.81 M159.45,672 L170.56,668.2 M159.45,676.25 L169.88,671.91 M159.45,680.75 L169.16,675.94 M159.45,685.75 L168.36,680.56 M159.45,691.25 L167.51,685.78 M159.45,698 L166.52,692.36 M159.45,706.25 L165.41,700.64 M159.45,716.25 L164.22,710.92 M159.45,726.25 L163.19,721.41 M159.45,740 L162.03,736.04 M159.45,756.25 L161.73,752.11 M159.45,774.5 L161.45,770.22 M202.65,655 L217.11,653.86 M202.65,658 L216.66,655.57 M202.65,661 L216.12,657.39 M202.65,664.5 L215.39,659.67 M202.65,668 L214.59,662.15 M202.65,672 L213.66,665.22 M202.65,676.25 L212.68,668.73 M202.65,680.75 L211.69,672.68 M202.65,685.75 L210.69,677.31 M202.65,691.25 L209.7,682.62 M202.65,698 L208.66,689.36 M202.65,706.25 L207.61,697.84 M202.65,716.25 L206.58,708.34 M202.65,726.25 L205.77,718.98 M202.65,740 L204.91,733.76 M202.65,756.25 L204.34,750.7 M202.65,774.5 L204.11,768.89 M245.85,655 L259.66,653.5 M245.85,658 L257.49,653.5 M245.85,661 L255.3,653.5 M245.85,664.5 L253.29,653.5 M245.85,668 L251.85,656.13 M245.85,672 L250.67,660 M245.85,676.25 L249.77,664.35 M245.85,680.75 L249.09,669.07 M245.85,685.75 L248.52,674.4 M245.85,691.25 L248.06,680.32 M245.85,698 L247.63,687.63 M245.85,706.25 L247.26,696.59 M245.85,716.25 L246.93,707.48 M245.85,726.25 L246.69,718.38 M245.85,740 L246.44,733.39 M245.85,756.25 L246.29,750.47 M245.85,774.5 L246.22,768.71 M289.05,655 L285.78,653.5 M289.05,658 L287.56,653.5 M289.05,661 L288.1,653.5 M289.05,664.5 L288.39,653.5 M289.05,668 L288.55,654.71 M289.05,672 L288.67,659.08 M289.05,676.25 L288.74,663.72 M289.05,680.75 L288.8,668.63 M289.05,685.75 L288.85,674.1 M289.05,691.25 L288.88,680.1 M289.05,698 L288.92,687.48 M289.05,706.25 L288.94,696.49 M289.05,716.25 L288.97,707.41 M289.05,726.25 L288.99,718.34 M289.05,740 L289.01,733.36 M289.05,756.25 L289.02,750.45 M289.05,774.5 L289.02,768.7 M332.25,655 L323.87,653.58 M332.25,658 L324.44,655.09 M332.25,661 L325.17,656.92 M332.25,664.5 L326.06,659.47 M332.25,668 L326.88,662.37 M332.25,672 L327.69,665.97 M332.25,676.25 L328.38,670.03 M332.25,680.75 L328.97,674.48 M332.25,685.75 L329.49,679.53 M332.25,691.25 L329.94,685.18 M332.25,698 L330.36,692.17 M332.25,706.25 L330.75,700.78 M332.25,716.25 L331.1,711.26 M332.25,726.25 L331.35,721.77 M332.25,740 L331.61,736.23 M332.25,756.25 L331.71,752.46 M332.25,774.5 L331.79,770.7 M375.45,655 L369.47,654.57 M375.45,658 L369.63,657.08 M375.45,661 L369.83,659.63 M375.45,664.5 L370.1,662.65 M375.45,668 L370.39,665.75 M375.45,672 L370.74,669.36 M375.45,676.25 L371.12,673.29 M375.45,680.75 L371.5,677.54 M375.45,685.75 L371.9,682.36 M375.45,691.25 L372.3,687.74 M375.45,698 L372.73,694.44 M375.45,706.25 L373.18,702.74 M375.45,716.25 L373.62,712.89 M375.45,726.25 L373.97,723.11 M375.45,740 L374.34,737.21 M375.45,756.25 L374.5,753.41 M375.45,774.5 L374.63,771.61 M418.65,655 L416.25,654.87 M418.65,658 L416.3,657.71 M418.65,661 L416.35,660.56 M418.65,664.5 L416.42,663.9 M418.65,668 L416.5,667.25 M418.65,672 L416.6,671.1 M418.65,676.25 L416.71,675.22 M418.65,680.75 L416.83,679.6 M418.65,685.75 L416.96,684.49 M418.65,691.25 L417.1,689.9 M418.65,698 L417.26,696.58 M418.65,706.25 L417.43,704.78 M418.65,716.25 L417.61,714.76 M418.65,726.25 L417.76,724.77 M418.65,740 L417.93,738.58 M418.65,756.25 L418.08,754.92 M418.65,774.5 L418.21,773.31 M461.85,655 L459.45,654.9 M461.85,658 L459.49,657.78 M461.85,661 L459.53,660.67 M461.85,664.5 L459.59,664.04 M461.85,668 L459.65,667.42 M461.85,672 L459.72,671.3 M461.85,676.25 L459.81,675.43 M461.85,680.75 L459.91,679.82 M461.85,685.75 L460.01,684.71 M461.85,691.25 L460.13,690.12 M461.85,698 L460.27,696.78 M461.85,706.25 L460.43,704.96 M461.85,716.25 L460.61,714.91 M461.85,726.25 L460.77,724.9 M461.85,740 L460.96,738.68 M461.85,756.25 L461.14,755 M461.85,774.5 L461.3,773.36" stroke="#1e1e1e" stroke-width="0.85" fill="none"/>
<path d="M121.05,655 L118.25,655.8 L118.25,654.2Z M121.05,658 L118.25,658.8 L118.25,657.2Z M121.05,661 L118.25,661.8 L118.25,660.2Z M121.05,664.5 L118.25,665.3 L118.25,663.7Z M121.05,668 L118.25,668.8 L118.25,667.2Z M121.05,672 L118.25,672.8 L118.25,671.2Z M121.05,676.25 L118.25,677.05 L118.25,675.45Z M121.05,680.75 L118.25,681.55 L118.25,679.95Z M121.05,685.75 L118.25,686.55 L118.25,684.95Z M121.05,691.25 L118.25,692.05 L118.25,690.45Z M121.05,698 L118.25,698.8 L118.25,697.2Z M121.05,706.25 L118.25,707.05 L118.25,705.45Z M121.05,716.25 L118.25,717.05 L118.25,715.45Z M121.05,726.25 L118.25,727.05 L118.25,725.45Z M121.05,740 L118.25,740.8 L118.25,739.2Z M121.05,756.25 L118.25,757.05 L118.25,755.45Z M121.05,774.5 L118.25,775.3 L118.25,773.7Z M174.54,654.34 L171.79,655.71 L171.68,653.21Z M174.17,656.58 L171.5,658.09 L171.26,655.61Z M173.77,658.87 L171.18,660.52 L170.82,658.04Z M173.26,661.6 L170.78,663.39 L170.27,660.95Z M172.72,664.4 L170.35,666.34 L169.69,663.92Z M172.07,667.69 L169.83,669.78 L169.02,667.41Z M171.36,671.29 L169.25,673.52 L168.29,671.22Z M170.59,675.23 L168.64,677.6 L167.53,675.36Z M169.74,679.75 L167.95,682.24 L166.69,680.08Z M168.83,684.88 L167.22,687.49 L165.82,685.42Z M167.77,691.36 L166.36,694.09 L164.8,692.13Z M166.58,699.54 L165.39,702.37 L163.68,700.55Z M165.29,709.73 L164.35,712.65 L162.49,710.98Z M164.17,720.15 L163.45,723.13 L161.47,721.6Z M162.91,734.7 L162.42,737.73 L160.33,736.36Z M162.5,750.71 L162.24,753.76 L160.05,752.56Z M162.13,768.77 L162.08,771.84 L159.81,770.78Z M218.7,653.73 L216.01,655.2 L215.81,652.71Z M218.24,655.29 L215.69,657 L215.27,654.54Z M217.66,656.97 L215.28,658.9 L214.64,656.49Z M216.88,659.11 L214.71,661.27 L213.82,658.93Z M216.03,661.45 L214.07,663.81 L212.97,661.56Z M215.02,664.38 L213.29,666.92 L211.98,664.79Z M213.96,667.77 L212.47,670.45 L210.97,668.45Z M212.89,671.62 L211.63,674.42 L209.97,672.55Z M211.79,676.15 L210.77,679.04 L208.96,677.32Z M210.72,681.38 L209.91,684.34 L207.98,682.76Z M209.58,688.05 L209,691.06 L206.95,689.63Z M208.42,696.46 L208.07,699.51 L205.92,698.24Z M207.29,706.9 L207.17,709.97 L204.93,708.86Z M206.4,717.51 L206.45,720.58 L204.15,719.59Z M205.45,732.25 L205.68,735.31 L203.33,734.46Z M204.81,749.17 L205.19,752.22 L202.8,751.49Z M204.51,767.34 L205.02,770.36 L202.6,769.73Z M261.19,653.01 L258.9,655.06 L258.14,652.67Z M258.8,652.58 L257.22,655.21 L255.79,653.17Z M256.38,652.32 L255.4,655.23 L253.57,653.54Z M254.17,652.16 L253.68,655.19 L251.59,653.82Z M252.57,654.7 L252.42,657.77 L250.19,656.64Z M251.26,658.52 L251.38,661.58 L249.06,660.65Z M250.28,662.83 L250.59,665.88 L248.21,665.09Z M249.51,667.53 L249.97,670.56 L247.56,669.89Z M248.89,672.85 L249.46,675.86 L247.03,675.29Z M248.37,678.75 L249.05,681.75 L246.59,681.25Z M247.91,686.05 L248.66,689.02 L246.2,688.6Z M247.49,695.01 L248.32,697.96 L245.85,697.6Z M247.12,705.89 L248.02,708.82 L245.54,708.52Z M246.85,716.79 L247.8,719.71 L245.32,719.44Z M246.58,731.79 L247.58,734.69 L245.09,734.47Z M246.41,748.87 L247.44,751.76 L244.95,751.57Z M246.32,767.12 L247.39,769.99 L244.9,769.83Z M285.42,651.94 L287.27,654.39 L284.83,654.95Z M287.39,651.91 L288.93,654.56 L286.44,654.82Z M287.99,651.9 L289.43,654.61 L286.94,654.78Z M288.32,651.9 L289.7,654.64 L287.2,654.76Z M288.49,653.11 L289.85,655.86 L287.35,655.96Z M288.62,657.48 L289.95,660.24 L287.45,660.31Z M288.71,662.12 L290.02,664.89 L287.52,664.95Z M288.77,667.03 L290.08,669.81 L287.58,669.86Z M288.82,672.5 L290.12,675.27 L287.62,675.32Z M288.86,678.5 L290.15,681.28 L287.65,681.32Z M288.9,685.88 L290.18,688.66 L287.68,688.69Z M288.93,694.89 L290.21,697.68 L287.71,697.7Z M288.96,705.81 L290.23,708.6 L287.73,708.63Z M288.98,716.74 L290.25,719.53 L287.75,719.55Z M289,731.76 L290.26,734.55 L287.76,734.57Z M289.01,748.85 L290.27,751.64 L287.77,751.66Z M289.01,767.1 L290.28,769.89 L287.78,769.91Z M322.29,653.31 L325.26,652.55 L324.84,655.01Z M322.94,654.53 L326,654.34 L325.13,656.68Z M323.78,656.13 L326.83,656.44 L325.59,658.61Z M324.82,658.46 L327.78,659.26 L326.2,661.2Z M325.78,661.21 L328.62,662.37 L326.8,664.1Z M326.72,664.7 L329.41,666.17 L327.41,667.68Z M327.54,668.67 L330.08,670.39 L327.95,671.71Z M328.23,673.06 L330.63,674.96 L328.42,676.12Z M328.84,678.07 L331.12,680.12 L328.83,681.14Z M329.37,683.68 L331.53,685.85 L329.2,686.74Z M329.87,690.65 L331.92,692.93 L329.54,693.7Z M330.32,699.24 L332.27,701.61 L329.86,702.27Z M330.73,709.71 L332.58,712.15 L330.15,712.72Z M331.04,720.2 L332.81,722.7 L330.36,723.2Z M331.35,734.65 L333.05,737.2 L330.58,737.62Z M331.49,750.88 L333.12,753.48 L330.64,753.83Z M331.6,769.11 L333.18,771.74 L330.69,772.04Z M367.87,654.46 L370.75,653.41 L370.57,655.9Z M368.05,656.83 L371.01,656.03 L370.62,658.5Z M368.27,659.25 L371.29,658.7 L370.7,661.13Z M368.58,662.13 L371.64,661.86 L370.82,664.23Z M368.93,665.09 L371.99,665.09 L370.98,667.38Z M369.35,668.58 L372.4,668.86 L371.18,671.04Z M369.8,672.39 L372.81,672.94 L371.4,675Z M370.26,676.53 L373.22,677.33 L371.64,679.27Z M370.74,681.25 L373.63,682.28 L371.9,684.09Z M371.23,686.55 L374.03,687.8 L372.17,689.47Z M371.76,693.17 L374.45,694.64 L372.47,696.16Z M372.31,701.39 L374.88,703.07 L372.78,704.42Z M372.85,711.48 L375.29,713.34 L373.09,714.54Z M373.28,721.66 L375.61,723.66 L373.35,724.73Z M373.75,735.73 L375.95,737.87 L373.62,738.79Z M373.99,751.89 L376.06,754.15 L373.69,754.94Z M374.19,770.08 L376.16,772.43 L373.75,773.11Z" fill="#1e1e1e"/>
<path d="M453,610.5 V647 M418,645 H442" stroke="#222" stroke-width="1.5" fill="none"/><path d="M442,645 H453 M442,645 V635 H453" stroke="#555" stroke-width="0.8" fill="none"/><path d="M453,649 l-1.6,-4 h3.2z" fill="#222"/>
<text x="450.2" y="606" font-family='"Liberation Sans", "Noto Sans CJK SC", sans-serif' font-size="10.5" fill="#333">z</text>
<text x="407.3" y="648.3" font-family='"Liberation Sans", "Noto Sans CJK SC", sans-serif' font-size="10.5" fill="#333">x</text>
<rect x="468" y="636" width="64" height="144.5" fill="#fff" stroke="#aaa" stroke-width="0.9"/>
<text x="475" y="648" font-family='"Liberation Sans", "Noto Sans CJK SC", sans-serif' font-size="8.8" fill="#333" textLength="51" lengthAdjust="spacingAndGlyphs">Temperature</text>
<rect x="473.75" y="654" width="13.25" height="7.05" fill="#e61e14"/>
<rect x="473.75" y="660.75" width="13.25" height="10.97" fill="#f55a14"/>
<rect x="473.75" y="671.42" width="13.25" height="10.98" fill="#faa014"/>
<rect x="473.75" y="682.1" width="13.25" height="10.97" fill="#f5f514"/>
<rect x="473.75" y="692.77" width="13.25" height="10.98" fill="#9bf01e"/>
<rect x="473.75" y="703.45" width="13.25" height="10.97" fill="#46e61e"/>
<rect x="473.75" y="714.12" width="13.25" height="10.97" fill="#14e12d"/>
<rect x="473.75" y="724.8" width="13.25" height="10.98" fill="#14e68c"/>
<rect x="473.75" y="735.48" width="13.25" height="10.97" fill="#14ebd7"/>
<rect x="473.75" y="746.15" width="13.25" height="10.98" fill="#14dcf5"/>
<rect x="473.75" y="756.83" width="13.25" height="10.97" fill="#1e9bf0"/>
<rect x="473.75" y="767.5" width="13.25" height="3.8" fill="#1450dc"/>
<text x="493.5" y="663.95" font-family='"Liberation Sans", "Noto Sans CJK SC", sans-serif' font-size="9" fill="#333">3000</text>
<text x="493.5" y="674.62" font-family='"Liberation Sans", "Noto Sans CJK SC", sans-serif' font-size="9" fill="#333">2868.18</text>
<text x="493.5" y="685.3" font-family='"Liberation Sans", "Noto Sans CJK SC", sans-serif' font-size="9" fill="#333">2736.36</text>
<text x="493.5" y="695.98" font-family='"Liberation Sans", "Noto Sans CJK SC", sans-serif' font-size="9" fill="#333">2604.55</text>
<text x="493.5" y="706.65" font-family='"Liberation Sans", "Noto Sans CJK SC", sans-serif' font-size="9" fill="#333">2472.73</text>
<text x="493.5" y="717.33" font-family='"Liberation Sans", "Noto Sans CJK SC", sans-serif' font-size="9" fill="#333">2340.91</text>
<text x="493.5" y="728" font-family='"Liberation Sans", "Noto Sans CJK SC", sans-serif' font-size="9" fill="#333">2209.09</text>
<text x="493.5" y="738.68" font-family='"Liberation Sans", "Noto Sans CJK SC", sans-serif' font-size="9" fill="#333">2077.27</text>
<text x="493.5" y="749.35" font-family='"Liberation Sans", "Noto Sans CJK SC", sans-serif' font-size="9" fill="#333">1945.45</text>
<text x="493.5" y="760.03" font-family='"Liberation Sans", "Noto Sans CJK SC", sans-serif' font-size="9" fill="#333">1813.64</text>
<text x="493.5" y="770.7" font-family='"Liberation Sans", "Noto Sans CJK SC", sans-serif' font-size="9" fill="#333">1681.82</text></g><g><text x="562.3" y="36" font-family='"Liberation Serif", "Noto Serif CJK SC", serif' font-size="20" fill="#222" textLength="23" lengthAdjust="spacingAndGlyphs">(b)</text>
<polygon points="593,35.75 610,28.35 821,28.35 801.75,35.75" fill="#f9830f" stroke="#78370a" stroke-width="0.7" stroke-linejoin="round"/>
<polygon points="593,35.75 801.75,35.75 801.75,51.75 593,51.75" fill="#f9830f" stroke="#78370a" stroke-width="0.7" stroke-linejoin="round"/>
<polygon points="801.75,35.75 821,28.35 821,44.35 801.75,51.75" fill="#f9830f" stroke="#78370a" stroke-width="0.7" stroke-linejoin="round"/>
<polygon points="593,68.25 610,60.85 821,60.85 801.75,68.25" fill="#f9830f" stroke="#78370a" stroke-width="0.7" stroke-linejoin="round"/>
<polygon points="593,68.25 801.75,68.25 801.75,84.6 593,84.6" fill="#f9830f" stroke="#78370a" stroke-width="0.7" stroke-linejoin="round"/>
<polygon points="801.75,68.25 821,60.85 821,77.2 801.75,84.6" fill="#f9830f" stroke="#78370a" stroke-width="0.7" stroke-linejoin="round"/>
<polygon points="593,84.6 801.75,84.6 801.75,100.95 593,100.95" fill="#f9830f" stroke="#78370a" stroke-width="0.7" stroke-linejoin="round"/>
<polygon points="801.75,84.6 821,77.2 821,93.55 801.75,100.95" fill="#f9830f" stroke="#78370a" stroke-width="0.7" stroke-linejoin="round"/>
<polygon points="593,100.95 801.75,100.95 801.75,117.3 593,117.3" fill="#f9830f" stroke="#78370a" stroke-width="0.7" stroke-linejoin="round"/>
<polygon points="801.75,100.95 821,93.55 821,109.9 801.75,117.3" fill="#f9830f" stroke="#78370a" stroke-width="0.7" stroke-linejoin="round"/>
<polygon points="593,117.3 801.75,117.3 801.75,133.65 593,133.65" fill="#f9830f" stroke="#78370a" stroke-width="0.7" stroke-linejoin="round"/>
<polygon points="801.75,117.3 821,109.9 821,126.25 801.75,133.65" fill="#f9830f" stroke="#78370a" stroke-width="0.7" stroke-linejoin="round"/>
<polygon points="593,133.65 801.75,133.65 801.75,150 593,150" fill="#f9830f" stroke="#78370a" stroke-width="0.7" stroke-linejoin="round"/>
<polygon points="801.75,133.65 821,126.25 821,142.6 801.75,150" fill="#f9830f" stroke="#78370a" stroke-width="0.7" stroke-linejoin="round"/>
<circle cx="692.25" cy="57.55" r="0.7" fill="#555"/>
<circle cx="706.75" cy="57.55" r="0.7" fill="#555"/>
<circle cx="721.25" cy="57.55" r="0.7" fill="#555"/>
<text x="648" y="46.95" font-family='"Liberation Serif", "Noto Serif CJK SC", serif' font-weight="bold" font-size="10" fill="#2d1405" textLength="36.5" lengthAdjust="spacingAndGlyphs">Layer 10</text>
<path d="M730,43.75 H694.5" stroke="#140a05" stroke-width="3.1"/><path d="M688,43.75 l9.5,-4.6 l-2,4.6 l2,4.6z" fill="#140a05"/>
<text x="651.75" y="81.15" font-family='"Liberation Serif", "Noto Serif CJK SC", serif' font-weight="bold" font-size="10" fill="#2d1405" textLength="32" lengthAdjust="spacingAndGlyphs">Layer 5</text>
<path d="M688.5,77.95 H724" stroke="#140a05" stroke-width="3.1"/><path d="M730.5,77.95 l-9.5,-4.6 l2,4.6 l-2,4.6z" fill="#140a05"/>
<text x="651.75" y="97.05" font-family='"Liberation Serif", "Noto Serif CJK SC", serif' font-weight="bold" font-size="10" fill="#2d1405" textLength="32" lengthAdjust="spacingAndGlyphs">Layer 4</text>
<path d="M730,93.85 H694.5" stroke="#140a05" stroke-width="3.1"/><path d="M688,93.85 l9.5,-4.6 l-2,4.6 l2,4.6z" fill="#140a05"/>
<text x="651.75" y="113.85" font-family='"Liberation Serif", "Noto Serif CJK SC", serif' font-weight="bold" font-size="10" fill="#2d1405" textLength="32" lengthAdjust="spacingAndGlyphs">Layer 3</text>
<path d="M688.5,110.65 H724" stroke="#140a05" stroke-width="3.1"/><path d="M730.5,110.65 l-9.5,-4.6 l2,4.6 l-2,4.6z" fill="#140a05"/>
<text x="651.75" y="129.95" font-family='"Liberation Serif", "Noto Serif CJK SC", serif' font-weight="bold" font-size="10" fill="#2d1405" textLength="32" lengthAdjust="spacingAndGlyphs">Layer 2</text>
<path d="M730,126.75 H694.5" stroke="#140a05" stroke-width="3.1"/><path d="M688,126.75 l9.5,-4.6 l-2,4.6 l2,4.6z" fill="#140a05"/>
<text x="651.75" y="146.15" font-family='"Liberation Serif", "Noto Serif CJK SC", serif' font-weight="bold" font-size="10" fill="#2d1405" textLength="32" lengthAdjust="spacingAndGlyphs">Layer 1</text>
<path d="M688.5,142.95 H724" stroke="#140a05" stroke-width="3.1"/><path d="M730.5,142.95 l-9.5,-4.6 l2,4.6 l-2,4.6z" fill="#140a05"/>
<text x="611.25" y="160.5" font-family='"Liberation Serif", "Noto Serif CJK SC", serif' font-weight="bold" font-size="6.6" fill="#2d1e14" textLength="38" lengthAdjust="spacingAndGlyphs">Laser power:</text>
<text x="656.5" y="160.5" font-family='"Liberation Serif", "Noto Serif CJK SC", serif' font-weight="bold" font-size="6.6" fill="#2d1e14" textLength="21" lengthAdjust="spacingAndGlyphs">1500W</text>
<text x="711.75" y="160.5" font-family='"Liberation Serif", "Noto Serif CJK SC", serif' font-weight="bold" font-size="6.6" fill="#2d1e14" textLength="48.25" lengthAdjust="spacingAndGlyphs">Scanning speed:</text>
<text x="766.5" y="160.5" font-family='"Liberation Serif", "Noto Serif CJK SC", serif' font-weight="bold" font-size="6.6" fill="#2d1e14" textLength="24.5" lengthAdjust="spacingAndGlyphs">50mm/s</text>
<text x="673.75" y="174.2" font-family='"Liberation Serif", "Noto Serif CJK SC", serif' font-weight="bold" font-size="10.2" fill="#2d1e14" textLength="44.75" lengthAdjust="spacingAndGlyphs">Strategy A</text>
<polygon points="843,35.75 860,28.35 1071,28.35 1051.75,35.75" fill="#f9830f" stroke="#78370a" stroke-width="0.7" stroke-linejoin="round"/>
<polygon points="843,35.75 1051.75,35.75 1051.75,51.75 843,51.75" fill="#f9830f" stroke="#78370a" stroke-width="0.7" stroke-linejoin="round"/>
<polygon points="1051.75,35.75 1071,28.35 1071,44.35 1051.75,51.75" fill="#f9830f" stroke="#78370a" stroke-width="0.7" stroke-linejoin="round"/>
<polygon points="843,68.25 860,60.85 1071,60.85 1051.75,68.25" fill="#f9830f" stroke="#78370a" stroke-width="0.7" stroke-linejoin="round"/>
<polygon points="843,68.25 1051.75,68.25 1051.75,84.6 843,84.6" fill="#f9830f" stroke="#78370a" stroke-width="0.7" stroke-linejoin="round"/>
<polygon points="1051.75,68.25 1071,60.85 1071,77.2 1051.75,84.6" fill="#f9830f" stroke="#78370a" stroke-width="0.7" stroke-linejoin="round"/>
<polygon points="843,84.6 1051.75,84.6 1051.75,100.95 843,100.95" fill="#f9830f" stroke="#78370a" stroke-width="0.7" stroke-linejoin="round"/>
<polygon points="1051.75,84.6 1071,77.2 1071,93.55 1051.75,100.95" fill="#f9830f" stroke="#78370a" stroke-width="0.7" stroke-linejoin="round"/>
<polygon points="843,100.95 1051.75,100.95 1051.75,117.3 843,117.3" fill="#f9830f" stroke="#78370a" stroke-width="0.7" stroke-linejoin="round"/>
<polygon points="1051.75,100.95 1071,93.55 1071,109.9 1051.75,117.3" fill="#f9830f" stroke="#78370a" stroke-width="0.7" stroke-linejoin="round"/>
<polygon points="843,117.3 1051.75,117.3 1051.75,133.65 843,133.65" fill="#f9830f" stroke="#78370a" stroke-width="0.7" stroke-linejoin="round"/>
<polygon points="1051.75,117.3 1071,109.9 1071,126.25 1051.75,133.65" fill="#f9830f" stroke="#78370a" stroke-width="0.7" stroke-linejoin="round"/>
<polygon points="843,133.65 1051.75,133.65 1051.75,150 843,150" fill="#f9830f" stroke="#78370a" stroke-width="0.7" stroke-linejoin="round"/>
<polygon points="1051.75,133.65 1071,126.25 1071,142.6 1051.75,150" fill="#f9830f" stroke="#78370a" stroke-width="0.7" stroke-linejoin="round"/>
<circle cx="942.25" cy="57.55" r="0.7" fill="#555"/>
<circle cx="956.75" cy="57.55" r="0.7" fill="#555"/>
<circle cx="971.25" cy="57.55" r="0.7" fill="#555"/>
<text x="898" y="46.95" font-family='"Liberation Serif", "Noto Serif CJK SC", serif' font-weight="bold" font-size="10" fill="#2d1405" textLength="36.5" lengthAdjust="spacingAndGlyphs">Layer 10</text>
<path d="M980,43.75 H944.5" stroke="#140a05" stroke-width="3.1"/><path d="M938,43.75 l9.5,-4.6 l-2,4.6 l2,4.6z" fill="#140a05"/>
<text x="901.75" y="81.15" font-family='"Liberation Serif", "Noto Serif CJK SC", serif' font-weight="bold" font-size="10" fill="#2d1405" textLength="32" lengthAdjust="spacingAndGlyphs">Layer 5</text>
<path d="M938.5,77.95 H974" stroke="#140a05" stroke-width="3.1"/><path d="M980.5,77.95 l-9.5,-4.6 l2,4.6 l-2,4.6z" fill="#140a05"/>
<text x="901.75" y="97.05" font-family='"Liberation Serif", "Noto Serif CJK SC", serif' font-weight="bold" font-size="10" fill="#2d1405" textLength="32" lengthAdjust="spacingAndGlyphs">Layer 4</text>
<path d="M980,93.85 H944.5" stroke="#140a05" stroke-width="3.1"/><path d="M938,93.85 l9.5,-4.6 l-2,4.6 l2,4.6z" fill="#140a05"/>
<text x="901.75" y="113.85" font-family='"Liberation Serif", "Noto Serif CJK SC", serif' font-weight="bold" font-size="10" fill="#2d1405" textLength="32" lengthAdjust="spacingAndGlyphs">Layer 3</text>
<path d="M938.5,110.65 H974" stroke="#140a05" stroke-width="3.1"/><path d="M980.5,110.65 l-9.5,-4.6 l2,4.6 l-2,4.6z" fill="#140a05"/>
<text x="901.75" y="129.95" font-family='"Liberation Serif", "Noto Serif CJK SC", serif' font-weight="bold" font-size="10" fill="#2d1405" textLength="32" lengthAdjust="spacingAndGlyphs">Layer 2</text>
<path d="M980,126.75 H944.5" stroke="#140a05" stroke-width="3.1"/><path d="M938,126.75 l9.5,-4.6 l-2,4.6 l2,4.6z" fill="#140a05"/>
<text x="901.75" y="146.15" font-family='"Liberation Serif", "Noto Serif CJK SC", serif' font-weight="bold" font-size="10" fill="#2d1405" textLength="32" lengthAdjust="spacingAndGlyphs">Layer 1</text>
<path d="M938.5,142.95 H974" stroke="#140a05" stroke-width="3.1"/><path d="M980.5,142.95 l-9.5,-4.6 l2,4.6 l-2,4.6z" fill="#140a05"/>
<text x="861.25" y="160.5" font-family='"Liberation Serif", "Noto Serif CJK SC", serif' font-weight="bold" font-size="6.6" fill="#2d1e14" textLength="38" lengthAdjust="spacingAndGlyphs">Laser power:</text>
<text x="906.5" y="160.5" font-family='"Liberation Serif", "Noto Serif CJK SC", serif' font-weight="bold" font-size="6.6" fill="#2d1e14" textLength="21" lengthAdjust="spacingAndGlyphs">1500W</text>
<text x="961.75" y="160.5" font-family='"Liberation Serif", "Noto Serif CJK SC", serif' font-weight="bold" font-size="6.6" fill="#2d1e14" textLength="48.25" lengthAdjust="spacingAndGlyphs">Scanning speed:</text>
<text x="1015.75" y="160.5" font-family='"Liberation Serif", "Noto Serif CJK SC", serif' font-weight="bold" font-size="6.6" fill="#e6283c" textLength="25.5" lengthAdjust="spacingAndGlyphs">60mm/s</text>
<text x="923.75" y="174.2" font-family='"Liberation Serif", "Noto Serif CJK SC", serif' font-weight="bold" font-size="10.2" fill="#2d1e14" textLength="44.75" lengthAdjust="spacingAndGlyphs">Strategy B</text>
<polygon points="593,194.6 610,187.2 821,187.2 801.75,194.6" fill="#f9830f" stroke="#78370a" stroke-width="0.7" stroke-linejoin="round"/>
<polygon points="593,194.6 801.75,194.6 801.75,210.6 593,210.6" fill="#f9830f" stroke="#78370a" stroke-width="0.7" stroke-linejoin="round"/>
<polygon points="801.75,194.6 821,187.2 821,203.2 801.75,210.6" fill="#f9830f" stroke="#78370a" stroke-width="0.7" stroke-linejoin="round"/>
<polygon points="758.5,194.6 777.75,187.2 821,187.2 801.75,194.6" fill="#fbfb1e" stroke="#78370a" stroke-width="0.7" stroke-linejoin="round"/>
<polygon points="758.5,194.6 801.75,194.6 801.75,210.6 758.5,210.6" fill="#fbfb1e" stroke="#78370a" stroke-width="0.7" stroke-linejoin="round"/>
<polygon points="801.75,194.6 821,187.2 821,203.2 801.75,210.6" fill="#fbfb1e" stroke="#78370a" stroke-width="0.7" stroke-linejoin="round"/>
<polygon points="593,227.1 610,219.7 821,219.7 801.75,227.1" fill="#f9830f" stroke="#78370a" stroke-width="0.7" stroke-linejoin="round"/>
<polygon points="593,227.1 610,219.7 653,219.7 635,227.1" fill="#fbfb1e" stroke="#78370a" stroke-width="0.7" stroke-linejoin="round"/>
<polygon points="593,227.1 801.75,227.1 801.75,243.45 593,243.45" fill="#f9830f" stroke="#78370a" stroke-width="0.7" stroke-linejoin="round"/>
<polygon points="593,227.1 635,227.1 635,243.45 593,243.45" fill="#fbfb1e" stroke="#78370a" stroke-width="0.7" stroke-linejoin="round"/>
<polygon points="801.75,227.1 821,219.7 821,236.05 801.75,243.45" fill="#f9830f" stroke="#78370a" stroke-width="0.7" stroke-linejoin="round"/>
<polygon points="593,243.45 801.75,243.45 801.75,259.8 593,259.8" fill="#f9830f" stroke="#78370a" stroke-width="0.7" stroke-linejoin="round"/>
<polygon points="758.5,243.45 801.75,243.45 801.75,259.8 758.5,259.8" fill="#fbfb1e" stroke="#78370a" stroke-width="0.7" stroke-linejoin="round"/>
<polygon points="801.75,243.45 821,236.05 821,252.4 801.75,259.8" fill="#fbfb1e" stroke="#78370a" stroke-width="0.7" stroke-linejoin="round"/>
<polygon points="593,259.8 801.75,259.8 801.75,276.15 593,276.15" fill="#f9830f" stroke="#78370a" stroke-width="0.7" stroke-linejoin="round"/>
<polygon points="593,259.8 635,259.8 635,276.15 593,276.15" fill="#fbfb1e" stroke="#78370a" stroke-width="0.7" stroke-linejoin="round"/>
<polygon points="801.75,259.8 821,252.4 821,268.75 801.75,276.15" fill="#f9830f" stroke="#78370a" stroke-width="0.7" stroke-linejoin="round"/>
<polygon points="593,276.15 801.75,276.15 801.75,292.5 593,292.5" fill="#f9830f" stroke="#78370a" stroke-width="0.7" stroke-linejoin="round"/>
<polygon points="758.5,276.15 801.75,276.15 801.75,292.5 758.5,292.5" fill="#fbfb1e" stroke="#78370a" stroke-width="0.7" stroke-linejoin="round"/>
<polygon points="801.75,276.15 821,268.75 821,285.1 801.75,292.5" fill="#fbfb1e" stroke="#78370a" stroke-width="0.7" stroke-linejoin="round"/>
<polygon points="593,292.5 801.75,292.5 801.75,308.85 593,308.85" fill="#f9830f" stroke="#78370a" stroke-width="0.7" stroke-linejoin="round"/>
<polygon points="801.75,292.5 821,285.1 821,301.45 801.75,308.85" fill="#f9830f" stroke="#78370a" stroke-width="0.7" stroke-linejoin="round"/>
<circle cx="689.75" cy="216.4" r="0.7" fill="#555"/>
<circle cx="704.25" cy="216.4" r="0.7" fill="#555"/>
<circle cx="718.75" cy="216.4" r="0.7" fill="#555"/>
<text x="645.5" y="205.8" font-family='"Liberation Serif", "Noto Serif CJK SC", serif' font-weight="bold" font-size="10" fill="#2d1405" textLength="36.5" lengthAdjust="spacingAndGlyphs">Layer 10</text>
<path d="M727.5,202.6 H692" stroke="#140a05" stroke-width="3.1"/><path d="M685.5,202.6 l9.5,-4.6 l-2,4.6 l2,4.6z" fill="#140a05"/>
<text x="649.25" y="240" font-family='"Liberation Serif", "Noto Serif CJK SC", serif' font-weight="bold" font-size="10" fill="#2d1405" textLength="32" lengthAdjust="spacingAndGlyphs">Layer 5</text>
<path d="M686,236.8 H721.5" stroke="#140a05" stroke-width="3.1"/><path d="M728,236.8 l-9.5,-4.6 l2,4.6 l-2,4.6z" fill="#140a05"/>
<text x="649.25" y="255.9" font-family='"Liberation Serif", "Noto Serif CJK SC", serif' font-weight="bold" font-size="10" fill="#2d1405" textLength="32" lengthAdjust="spacingAndGlyphs">Layer 4</text>
<path d="M727.5,252.7 H692" stroke="#140a05" stroke-width="3.1"/><path d="M685.5,252.7 l9.5,-4.6 l-2,4.6 l2,4.6z" fill="#140a05"/>
<text x="649.25" y="272.7" font-family='"Liberation Serif", "Noto Serif CJK SC", serif' font-weight="bold" font-size="10" fill="#2d1405" textLength="32" lengthAdjust="spacingAndGlyphs">Layer 3</text>
<path d="M686,269.5 H721.5" stroke="#140a05" stroke-width="3.1"/><path d="M728,269.5 l-9.5,-4.6 l2,4.6 l-2,4.6z" fill="#140a05"/>
<text x="649.25" y="288.8" font-family='"Liberation Serif", "Noto Serif CJK SC", serif' font-weight="bold" font-size="10" fill="#2d1405" textLength="32" lengthAdjust="spacingAndGlyphs">Layer 2</text>
<path d="M727.5,285.6 H692" stroke="#140a05" stroke-width="3.1"/><path d="M685.5,285.6 l9.5,-4.6 l-2,4.6 l2,4.6z" fill="#140a05"/>
<text x="649.25" y="305" font-family='"Liberation Serif", "Noto Serif CJK SC", serif' font-weight="bold" font-size="10" fill="#2d1405" textLength="32" lengthAdjust="spacingAndGlyphs">Layer 1</text>
<path d="M686,301.8 H721.5" stroke="#140a05" stroke-width="3.1"/><path d="M728,301.8 l-9.5,-4.6 l2,4.6 l-2,4.6z" fill="#140a05"/>
<text x="594.75" y="319.35" font-family='"Liberation Serif", "Noto Serif CJK SC", serif' font-weight="bold" font-size="6.6" fill="#2d1e14" textLength="39" lengthAdjust="spacingAndGlyphs">Laser power:</text>
<rect x="636.25" y="313.45" width="9.3" height="8.8" fill="#f9830f" stroke="#b4641e" stroke-width="0.6"/>
<text x="646.5" y="319.35" font-family='"Liberation Serif", "Noto Serif CJK SC", serif' font-weight="bold" font-size="6.6" fill="#2d1e14" textLength="21.5" lengthAdjust="spacingAndGlyphs">1500W</text>
<rect x="674.25" y="313.45" width="8.8" height="8.8" fill="#fbfb1e" stroke="#c8b41e" stroke-width="0.6"/>
<text x="684.5" y="319.35" font-family='"Liberation Serif", "Noto Serif CJK SC", serif' font-weight="bold" font-size="6.6" fill="#e63232" textLength="21" lengthAdjust="spacingAndGlyphs">1300W</text>
<text x="716.25" y="319.35" font-family='"Liberation Serif", "Noto Serif CJK SC", serif' font-weight="bold" font-size="6.6" fill="#2d1e14" textLength="48.75" lengthAdjust="spacingAndGlyphs">Scanning speed:</text>
<text x="771.75" y="319.35" font-family='"Liberation Serif", "Noto Serif CJK SC", serif' font-weight="bold" font-size="6.6" fill="#2d1e14" textLength="23.75" lengthAdjust="spacingAndGlyphs">50mm/s</text>
<text x="672.25" y="333.05" font-family='"Liberation Serif", "Noto Serif CJK SC", serif' font-weight="bold" font-size="10.2" fill="#2d1e14" textLength="44.75" lengthAdjust="spacingAndGlyphs">Strategy C</text>
<polygon points="843,194.6 860,187.2 1071,187.2 1051.75,194.6" fill="#f9830f" stroke="#78370a" stroke-width="0.7" stroke-linejoin="round"/>
<polygon points="843,194.6 1051.75,194.6 1051.75,210.6 843,210.6" fill="#f9830f" stroke="#78370a" stroke-width="0.7" stroke-linejoin="round"/>
<polygon points="1051.75,194.6 1071,187.2 1071,203.2 1051.75,210.6" fill="#f9830f" stroke="#78370a" stroke-width="0.7" stroke-linejoin="round"/>
<polygon points="843,227.1 860,219.7 1071,219.7 1051.75,227.1" fill="#f9830f" stroke="#78370a" stroke-width="0.7" stroke-linejoin="round"/>
<polygon points="843,227.1 1051.75,227.1 1051.75,243.45 843,243.45" fill="#f9830f" stroke="#78370a" stroke-width="0.7" stroke-linejoin="round"/>
<polygon points="1051.75,227.1 1071,219.7 1071,236.05 1051.75,243.45" fill="#f9830f" stroke="#78370a" stroke-width="0.7" stroke-linejoin="round"/>
<polygon points="843,243.45 1051.75,243.45 1051.75,259.8 843,259.8" fill="#f9830f" stroke="#78370a" stroke-width="0.7" stroke-linejoin="round"/>
<polygon points="1051.75,243.45 1071,236.05 1071,252.4 1051.75,259.8" fill="#f9830f" stroke="#78370a" stroke-width="0.7" stroke-linejoin="round"/>
<polygon points="843,259.8 1051.75,259.8 1051.75,276.15 843,276.15" fill="#f9830f" stroke="#78370a" stroke-width="0.7" stroke-linejoin="round"/>
<polygon points="1051.75,259.8 1071,252.4 1071,268.75 1051.75,276.15" fill="#f9830f" stroke="#78370a" stroke-width="0.7" stroke-linejoin="round"/>
<polygon points="843,276.15 1051.75,276.15 1051.75,292.5 843,292.5" fill="#f9830f" stroke="#78370a" stroke-width="0.7" stroke-linejoin="round"/>
<polygon points="1051.75,276.15 1071,268.75 1071,285.1 1051.75,292.5" fill="#f9830f" stroke="#78370a" stroke-width="0.7" stroke-linejoin="round"/>
<polygon points="843,292.5 1051.75,292.5 1051.75,308.85 843,308.85" fill="#f9830f" stroke="#78370a" stroke-width="0.7" stroke-linejoin="round"/>
<polygon points="1051.75,292.5 1071,285.1 1071,301.45 1051.75,308.85" fill="#f9830f" stroke="#78370a" stroke-width="0.7" stroke-linejoin="round"/>
<circle cx="942.25" cy="216.4" r="0.7" fill="#555"/>
<circle cx="956.75" cy="216.4" r="0.7" fill="#555"/>
<circle cx="971.25" cy="216.4" r="0.7" fill="#555"/>
<text x="898" y="205.8" font-family='"Liberation Serif", "Noto Serif CJK SC", serif' font-weight="bold" font-size="10" fill="#2d1405" textLength="36.5" lengthAdjust="spacingAndGlyphs">Layer 10</text>
<path d="M938.5,202.6 H974" stroke="#ff2814" stroke-width="3.1"/><path d="M980.5,202.6 l-9.5,-4.6 l2,4.6 l-2,4.6z" fill="#ff2814"/>
<text x="901.75" y="240" font-family='"Liberation Serif", "Noto Serif CJK SC", serif' font-weight="bold" font-size="10" fill="#2d1405" textLength="32" lengthAdjust="spacingAndGlyphs">Layer 5</text>
<path d="M938.5,236.8 H974" stroke="#140a05" stroke-width="3.1"/><path d="M980.5,236.8 l-9.5,-4.6 l2,4.6 l-2,4.6z" fill="#140a05"/>
<text x="901.75" y="255.9" font-family='"Liberation Serif", "Noto Serif CJK SC", serif' font-weight="bold" font-size="10" fill="#2d1405" textLength="32" lengthAdjust="spacingAndGlyphs">Layer 4</text>
<path d="M938.5,252.7 H974" stroke="#ff2814" stroke-width="3.1"/><path d="M980.5,252.7 l-9.5,-4.6 l2,4.6 l-2,4.6z" fill="#ff2814"/>
<text x="901.75" y="272.7" font-family='"Liberation Serif", "Noto Serif CJK SC", serif' font-weight="bold" font-size="10" fill="#2d1405" textLength="32" lengthAdjust="spacingAndGlyphs">Layer 3</text>
<path d="M938.5,269.5 H974" stroke="#140a05" stroke-width="3.1"/><path d="M980.5,269.5 l-9.5,-4.6 l2,4.6 l-2,4.6z" fill="#140a05"/>
<text x="901.75" y="288.8" font-family='"Liberation Serif", "Noto Serif CJK SC", serif' font-weight="bold" font-size="10" fill="#2d1405" textLength="32" lengthAdjust="spacingAndGlyphs">Layer 2</text>
<path d="M938.5,285.6 H974" stroke="#ff2814" stroke-width="3.1"/><path d="M980.5,285.6 l-9.5,-4.6 l2,4.6 l-2,4.6z" fill="#ff2814"/>
<text x="901.75" y="305" font-family='"Liberation Serif", "Noto Serif CJK SC", serif' font-weight="bold" font-size="10" fill="#2d1405" textLength="32" lengthAdjust="spacingAndGlyphs">Layer 1</text>
<path d="M938.5,301.8 H974" stroke="#140a05" stroke-width="3.1"/><path d="M980.5,301.8 l-9.5,-4.6 l2,4.6 l-2,4.6z" fill="#140a05"/>
<text x="861.25" y="319.35" font-family='"Liberation Serif", "Noto Serif CJK SC", serif' font-weight="bold" font-size="6.6" fill="#2d1e14" textLength="38" lengthAdjust="spacingAndGlyphs">Laser power:</text>
<text x="906.5" y="319.35" font-family='"Liberation Serif", "Noto Serif CJK SC", serif' font-weight="bold" font-size="6.6" fill="#2d1e14" textLength="21" lengthAdjust="spacingAndGlyphs">1500W</text>
<text x="961.75" y="319.35" font-family='"Liberation Serif", "Noto Serif CJK SC", serif' font-weight="bold" font-size="6.6" fill="#2d1e14" textLength="48.25" lengthAdjust="spacingAndGlyphs">Scanning speed:</text>
<text x="1016.5" y="319.35" font-family='"Liberation Serif", "Noto Serif CJK SC", serif' font-weight="bold" font-size="6.6" fill="#2d1e14" textLength="24.5" lengthAdjust="spacingAndGlyphs">50mm/s</text>
<text x="923.75" y="333.05" font-family='"Liberation Serif", "Noto Serif CJK SC", serif' font-weight="bold" font-size="10.2" fill="#2d1e14" textLength="44.75" lengthAdjust="spacingAndGlyphs">Strategy D</text></g><g><text x="563.3" y="371" font-family='"Liberation Serif", "Noto Serif CJK SC", serif' font-size="20" fill="#222" textLength="22" lengthAdjust="spacingAndGlyphs">(c)</text>
<g clip-path="url(#sc0)">
<rect x="590" y="361.25" width="482.5" height="96.75" fill="url(#sg0)"/>
<g clip-path="url(#su0)">
<g filter="url(#bl6)">
<ellipse cx="840" cy="385.88" rx="215" ry="30" fill="#4bb937" opacity="1"/>
<ellipse cx="640" cy="378" rx="50" ry="14" fill="#5fbe32" opacity="0.9"/>
<ellipse cx="713" cy="386" rx="44" ry="19" fill="#28b482" opacity="1"/>
<ellipse cx="841" cy="386" rx="50" ry="21" fill="#28b482" opacity="1"/>
<ellipse cx="952" cy="384" rx="58" ry="19" fill="#28b482" opacity="1"/>
</g><g filter="url(#bl3)">
<ellipse cx="713" cy="386" rx="23.28" ry="9.7" fill="#23a5c3" opacity="1"/>
<ellipse cx="841" cy="386" rx="26.19" ry="10.67" fill="#23a5c3" opacity="1"/>
<ellipse cx="955" cy="383" rx="29.1" ry="8.73" fill="#23a5c3" opacity="1"/>
<ellipse cx="704.4" cy="376.2" rx="14" ry="3.8" fill="#1450d2" opacity="1"/>
<ellipse cx="726.5" cy="383.7" rx="12" ry="4" fill="#1e82dc" opacity="1"/>
<ellipse cx="713" cy="397" rx="14" ry="3.8" fill="#1e82dc" opacity="0.95"/>
<ellipse cx="841.4" cy="374.9" rx="15" ry="4.2" fill="#1450d2" opacity="1"/>
<ellipse cx="854.7" cy="381.5" rx="11" ry="3.8" fill="#1e82dc" opacity="1"/>
<ellipse cx="837" cy="397" rx="15" ry="4" fill="#1e82dc" opacity="0.95"/>
<ellipse cx="952" cy="375" rx="17" ry="3.8" fill="#1e82dc" opacity="1"/>
<ellipse cx="960.8" cy="388" rx="11" ry="3.8" fill="#1e82dc" opacity="1"/>
<ellipse cx="775" cy="362" rx="30" ry="6" fill="#c8d21e" opacity="1"/>
<ellipse cx="872" cy="361.5" rx="30" ry="5" fill="#e6961e" opacity="1"/>
<ellipse cx="996" cy="362" rx="32" ry="5" fill="#c8d21e" opacity="1"/>
<ellipse cx="1052" cy="365" rx="22" ry="4" fill="#e6961e" opacity="0.9"/>
<ellipse cx="629" cy="396" rx="30" ry="6.5" fill="#c8d21e" opacity="0.95"/>
<ellipse cx="611.5" cy="401.6" rx="8" ry="2.6" fill="#c83c14" opacity="1"/>
<ellipse cx="1063" cy="397" rx="14" ry="7" fill="#c8d21e" opacity="1"/>
<ellipse cx="775" cy="408" rx="15" ry="3.2" fill="#c8d21e" opacity="0.9"/>
<ellipse cx="940" cy="408" rx="12" ry="2.5" fill="#c8d21e" opacity="0.7"/>
<ellipse cx="880" cy="407" rx="14" ry="2.5" fill="#c8d21e" opacity="0.5"/>
</g></g>
<line x1="590" y1="410.2" x2="1072.5" y2="410.2" stroke="#c3cd1e" stroke-width="3.4" opacity="0.45"/>
<line x1="592" y1="410.5" x2="1070.5" y2="410.5" stroke="#965a1e" stroke-width="1.3" stroke-dasharray="2.2,1.8" opacity="0.8"/>
<line x1="592" y1="411.3" x2="1070.5" y2="411.3" stroke="#5a961e" stroke-width="1" opacity="0.6"/>
<g filter="url(#bl6)"><ellipse cx="1074.5" cy="424.5" rx="14" ry="14" fill="#c8cd1e" opacity="0.7"/></g>
</g>
<text x="603.25" y="428.75" font-family='"Liberation Serif", "Noto Serif CJK SC", serif' font-size="19.5" fill="#12260c" stroke="#12260c" stroke-width="0.25" textLength="83" lengthAdjust="spacingAndGlyphs">Strategy A</text>
<g clip-path="url(#sc1)">
<rect x="590" y="470.5" width="484.5" height="95" fill="url(#sg1)"/>
<g clip-path="url(#su1)">
<g filter="url(#bl6)">
<ellipse cx="830" cy="495.25" rx="230" ry="30" fill="#4bb937" opacity="1"/>
<ellipse cx="640" cy="492" rx="50" ry="18" fill="#4bb937" opacity="0.8"/>
<ellipse cx="651" cy="488.5" rx="34" ry="13" fill="#28b482" opacity="1"/>
<ellipse cx="760" cy="493" rx="60" ry="23" fill="#28b482" opacity="1"/>
<ellipse cx="874" cy="493" rx="54" ry="25" fill="#28b482" opacity="1"/>
<ellipse cx="974" cy="491" rx="44" ry="19" fill="#28b482" opacity="1"/>
</g><g filter="url(#bl3)">
<ellipse cx="762" cy="491" rx="31.04" ry="10.67" fill="#23a5c3" opacity="1"/>
<ellipse cx="873" cy="492" rx="26.19" ry="13.58" fill="#23a5c3" opacity="1"/>
<ellipse cx="974" cy="491" rx="20.37" ry="8.24" fill="#23a5c3" opacity="1"/>
<ellipse cx="651" cy="488.5" rx="18" ry="6" fill="#23af96" opacity="0.9"/>
<ellipse cx="766" cy="489.5" rx="19" ry="5.5" fill="#1e82dc" opacity="1"/>
<ellipse cx="872" cy="488" rx="13" ry="5.5" fill="#1e82dc" opacity="1"/>
<ellipse cx="878" cy="499.5" rx="11" ry="4" fill="#1e82dc" opacity="1"/>
<ellipse cx="974" cy="490.7" rx="14" ry="3.8" fill="#1450d2" opacity="1"/>
<ellipse cx="704" cy="477.5" rx="28" ry="6" fill="#c8d21e" opacity="1"/>
<ellipse cx="704" cy="477" rx="14" ry="3" fill="#e6961e" opacity="1"/>
<ellipse cx="819" cy="479.5" rx="26" ry="6" fill="#c8d21e" opacity="1"/>
<ellipse cx="1049" cy="504" rx="26" ry="6" fill="#c8d21e" opacity="1"/>
<ellipse cx="1066" cy="477.5" rx="8" ry="2.6" fill="#e6961e" opacity="1"/>
<ellipse cx="603" cy="502" rx="15" ry="4.5" fill="#c8d21e" opacity="0.9"/>
<ellipse cx="695.5" cy="513" rx="17" ry="3.4" fill="#c8d21e" opacity="0.9"/>
<ellipse cx="810" cy="510.5" rx="15" ry="3.4" fill="#c8d21e" opacity="0.85"/>
<ellipse cx="950" cy="473.5" rx="32" ry="3.5" fill="#c8d21e" opacity="0.7"/>
<ellipse cx="600" cy="480" rx="14" ry="4" fill="#c8d21e" opacity="0.6"/>
</g></g>
<line x1="590" y1="519.7" x2="1074.5" y2="519.7" stroke="#c3cd1e" stroke-width="3.4" opacity="0.45"/>
<line x1="592" y1="520" x2="1072.5" y2="520" stroke="#965a1e" stroke-width="1.3" stroke-dasharray="2.2,1.8" opacity="0.8"/>
<line x1="592" y1="520.8" x2="1072.5" y2="520.8" stroke="#5a961e" stroke-width="1" opacity="0.6"/>
<g filter="url(#bl6)"><ellipse cx="1076.5" cy="534" rx="14" ry="14" fill="#c8cd1e" opacity="0.7"/></g>
</g>
<text x="603.25" y="541.25" font-family='"Liberation Serif", "Noto Serif CJK SC", serif' font-size="19.5" fill="#12260c" stroke="#12260c" stroke-width="0.25" textLength="83" lengthAdjust="spacingAndGlyphs">Strategy B</text>
<g clip-path="url(#sc2)">
<rect x="590" y="578.75" width="483.75" height="94.25" fill="url(#sg2)"/>
<g clip-path="url(#su2)">
<g filter="url(#bl6)">
<ellipse cx="835" cy="604.75" rx="235" ry="28" fill="#4bb937" opacity="1"/>
<ellipse cx="830" cy="597" rx="190" ry="15" fill="#28b482" opacity="1"/>
<ellipse cx="640" cy="598" rx="45" ry="8" fill="#5fbe32" opacity="0.9"/>
</g><g filter="url(#bl3)">
<ellipse cx="830" cy="594.5" rx="135.8" ry="7.27" fill="#23a5c3" opacity="1"/>
<ellipse cx="700" cy="593" rx="24" ry="3.4" fill="#1e82dc" opacity="0.9"/>
<ellipse cx="806" cy="594.5" rx="42" ry="4.2" fill="#1e82dc" opacity="0.85"/>
<ellipse cx="905" cy="598.5" rx="28" ry="4.2" fill="#1e82dc" opacity="0.9"/>
<ellipse cx="948" cy="606.5" rx="17" ry="3.2" fill="#1e82dc" opacity="0.85"/>
<ellipse cx="830" cy="579.6" rx="250" ry="2.6" fill="#e6961e" opacity="1"/>
<ellipse cx="830" cy="578.4" rx="250" ry="1.5" fill="#c83c14" opacity="0.95"/>
<ellipse cx="622" cy="579.5" rx="32" ry="2.8" fill="#aa230f" opacity="1"/>
<ellipse cx="1047" cy="581.5" rx="26" ry="4" fill="#e6961e" opacity="1"/>
<ellipse cx="1047" cy="580.5" rx="17" ry="2.4" fill="#c83c14" opacity="1"/>
<ellipse cx="1000" cy="583.5" rx="42" ry="3.6" fill="#c8d21e" opacity="0.9"/>
<ellipse cx="606" cy="612" rx="15" ry="4.5" fill="#c8d21e" opacity="0.85"/>
<ellipse cx="1063" cy="600" rx="9" ry="13" fill="#c8d21e" opacity="0.65"/>
<ellipse cx="602" cy="592" rx="10" ry="3" fill="#c8d21e" opacity="0.5"/>
</g></g>
<line x1="590" y1="626.45" x2="1073.75" y2="626.45" stroke="#c3cd1e" stroke-width="3.4" opacity="0.45"/>
<line x1="592" y1="626.75" x2="1071.75" y2="626.75" stroke="#965a1e" stroke-width="1.3" stroke-dasharray="2.2,1.8" opacity="0.8"/>
<line x1="592" y1="627.55" x2="1071.75" y2="627.55" stroke="#5a961e" stroke-width="1" opacity="0.6"/>
<g filter="url(#bl6)"><ellipse cx="1075.75" cy="640.75" rx="14" ry="14" fill="#c8cd1e" opacity="0.7"/></g>
</g>
<text x="603.25" y="651.25" font-family='"Liberation Serif", "Noto Serif CJK SC", serif' font-size="19.5" fill="#12260c" stroke="#12260c" stroke-width="0.25" textLength="83" lengthAdjust="spacingAndGlyphs">Strategy C</text>
<g clip-path="url(#sc3)">
<rect x="590" y="685" width="483" height="95" fill="url(#sg3)"/>
<g clip-path="url(#su3)">
<g filter="url(#bl6)">
<ellipse cx="835" cy="708.75" rx="235" ry="30" fill="#4bb937" opacity="1"/>
<ellipse cx="682" cy="702" rx="52" ry="16" fill="#28b482" opacity="1"/>
<ellipse cx="780" cy="706" rx="40" ry="23" fill="#28b482" opacity="1"/>
<ellipse cx="872" cy="706" rx="42" ry="23" fill="#28b482" opacity="1"/>
<ellipse cx="975" cy="704" rx="46" ry="17" fill="#28b482" opacity="1"/>
</g><g filter="url(#bl3)">
<ellipse cx="682" cy="702" rx="22.31" ry="6.79" fill="#23a5c3" opacity="1"/>
<ellipse cx="780" cy="706" rx="19.4" ry="14.55" fill="#23a5c3" opacity="1"/>
<ellipse cx="872" cy="706" rx="21.34" ry="14.55" fill="#23a5c3" opacity="1"/>
<ellipse cx="975" cy="703" rx="22.31" ry="7.76" fill="#23a5c3" opacity="1"/>
<ellipse cx="779.5" cy="701" rx="14" ry="6" fill="#1e82dc" opacity="1"/>
<ellipse cx="870" cy="701" rx="15" ry="5.6" fill="#1e82dc" opacity="1"/>
<ellipse cx="972" cy="701.5" rx="14" ry="4.6" fill="#1e82dc" opacity="1"/>
<ellipse cx="682" cy="702" rx="13" ry="3.6" fill="#28a0dc" opacity="0.9"/>
<ellipse cx="616" cy="690" rx="46" ry="7" fill="#96c828" opacity="1"/>
<ellipse cx="722" cy="691" rx="60" ry="7.5" fill="#96c828" opacity="1"/>
<ellipse cx="824" cy="692" rx="50" ry="7.5" fill="#96c828" opacity="1"/>
<ellipse cx="921" cy="691" rx="50" ry="7.5" fill="#96c828" opacity="1"/>
<ellipse cx="1018" cy="688" rx="32" ry="5" fill="#96c828" opacity="1"/>
<ellipse cx="616" cy="688" rx="38" ry="5" fill="#e6961e" opacity="0.85"/>
<ellipse cx="722" cy="689" rx="50" ry="5.2" fill="#e6961e" opacity="0.85"/>
<ellipse cx="824" cy="690" rx="40" ry="5.4" fill="#e6961e" opacity="0.85"/>
<ellipse cx="921" cy="689" rx="40" ry="5.2" fill="#e6961e" opacity="0.85"/>
<ellipse cx="1018" cy="685.5" rx="24" ry="3.4" fill="#e6961e" opacity="1"/>
<ellipse cx="616" cy="685" rx="30" ry="3.8" fill="#c83c14" opacity="1"/>
<ellipse cx="722" cy="685.6" rx="44" ry="4.4" fill="#c83c14" opacity="1"/>
<ellipse cx="824" cy="686" rx="34" ry="5" fill="#aa230f" opacity="1"/>
<ellipse cx="921" cy="685.6" rx="34" ry="4.6" fill="#aa230f" opacity="1"/>
<ellipse cx="1049" cy="722" rx="9" ry="2.8" fill="#e6961e" opacity="1"/>
<ellipse cx="1049" cy="722" rx="17" ry="4.5" fill="#c8d21e" opacity="0.7"/>
<ellipse cx="947.5" cy="724.5" rx="13" ry="3.4" fill="#c8d21e" opacity="0.9"/>
<ellipse cx="655.7" cy="724.5" rx="13" ry="3.4" fill="#c8d21e" opacity="0.85"/>
<ellipse cx="795" cy="726" rx="13" ry="2.8" fill="#c8d21e" opacity="0.7"/>
</g></g>
<line x1="590" y1="732.2" x2="1073" y2="732.2" stroke="#c3cd1e" stroke-width="3.4" opacity="0.45"/>
<line x1="592" y1="732.5" x2="1071" y2="732.5" stroke="#965a1e" stroke-width="1.3" stroke-dasharray="2.2,1.8" opacity="0.8"/>
<line x1="592" y1="733.3" x2="1071" y2="733.3" stroke="#5a961e" stroke-width="1" opacity="0.6"/>
<g filter="url(#bl6)"><ellipse cx="1075" cy="746.5" rx="14" ry="14" fill="#c8cd1e" opacity="0.7"/></g>
</g>
<text x="605" y="757" font-family='"Liberation Serif", "Noto Serif CJK SC", serif' font-size="19.5" fill="#12260c" stroke="#12260c" stroke-width="0.25" textLength="83" lengthAdjust="spacingAndGlyphs">Strategy D</text></g><g fill="none" stroke="#82e682" stroke-width="1.1" opacity="0.45"><path d="M180,468 L221,427 L314.6,520.5 L271,561.5Z"/><path d="M128,471 L268,611 L388,491"/><path d="M150,425 L183.7,391.8 L211.5,361.3 L223.4,374.6 L292.4,306.9 L374.6,389 L420,434"/><path d="M140,510 L182,468 L287.1,362.6 L400,475 L440,515"/><path d="M364,272 L383,253 L402,272 L383,291Z"/><path d="M345,272 L383,234 L421,272 L383,310Z"/><path d="M340,232 L302,270 L383,351 L464,270 L426,232"/><path d="M352,232 L560,440"/><path d="M402,232 L470,164 L520,214"/><path d="M455,250 L540,165 L562,187"/><path d="M465,330 L540,405 L500,445"/><path d="M452,170 L520,102 L562,144"/><path d="M420,232 L482,170"/><path d="M505,55 L562,112"/><path d="M691.51,37.95 L765.05,111.49 Q772.12,118.56 765.05,125.63 L722.63,168.05 Q715.56,175.12 708.49,168.05 L634.95,94.51 Q627.88,87.44 634.95,80.37 L677.37,37.95 Q684.44,30.88 691.51,37.95Z"/><path d="M654.56,-21.12 L769.12,93.44 Q779.02,103.33 769.12,113.23 L701.23,181.12 Q691.33,191.02 681.44,181.12 L566.88,66.56 Q556.98,56.67 566.88,46.77 L634.77,-21.12 Q644.67,-31.02 654.56,-21.12Z"/><path d="M588,100 L650,38 L700,16"/><path d="M560,40 L600,80 L565,115"/><path d="M562,175 L640,253 L600,293 L562,255"/><path d="M665.96,174.19 L750.81,259.04 Q757.88,266.11 750.81,273.18 L728.18,295.81 Q721.11,302.88 714.04,295.81 L629.19,210.96 Q622.12,203.89 629.19,196.82 L651.82,174.19 Q658.89,167.12 665.96,174.19Z"/><path d="M838,15 L866,43 L842,67"/><path d="M851,16 L862,27"/><path d="M235,578 L268,611 L301,578"/></g></g></svg><div class="ln" id="ln0" style="left:17.5px;top:803.0px;letter-spacing:-0.045px">图 10 (a1) LDED 凝固过程熔池温度场模拟; (a2) Ti60 合金的 CET 曲线及凝固情况; (a3)熔池</div><div class="ln" id="ln1" style="left:24.3px;top:865.5px;letter-spacing:-0.002px">内温度梯度方向<span class="sp">[123]</span>; (b)&nbsp; <span style="margin-left:3px"></span>运动学模型中使用的沉积策略和工艺参数<span class="sp">[124]</span>; (c) 4 种沉积策略下</div><div class="ln" id="ln2" style="left:357.5px;top:928.0px;letter-spacing:0.168px">沿沉积方向(<i>σ<span class="sb">x</span></i>)的残余应力分布<span class="sp">[124]</span></div><div class="ln" id="ln3" style="left:29.5px;top:990.5px;word-spacing:-0.007px">Fig.10 (a1) Simulation of temperature field of melt pool during solidification process; (a2) CET</div><div class="ln" id="ln4" style="left:14.5px;top:1053.0px;word-spacing:0.059px">curves of the Ti60 alloy and the solidification conditions; (a3) Direction of temperature gradient in</div><div class="ln" id="ln5" style="left:54.5px;top:1118.5px;word-spacing:0.438px">the melt pool<span class="sp spl">[123]</span>; (b) Deposition strategies and process parameters used in the kinematic</div><div class="ln" id="ln6" style="left:17px;top:1180.5px;word-spacing:0.236px">model<span class="sp spl">[124]</span>; (c) Residual stress distribution along the deposition direction (<i>σ<span class="sb">x</span></i>) under 4 deposition</div><div class="ln" id="ln7" style="left:479.5px;top:1243.5px;word-spacing:0.000px">strategies<span class="sp spl">[124]</span></div></body></html>
